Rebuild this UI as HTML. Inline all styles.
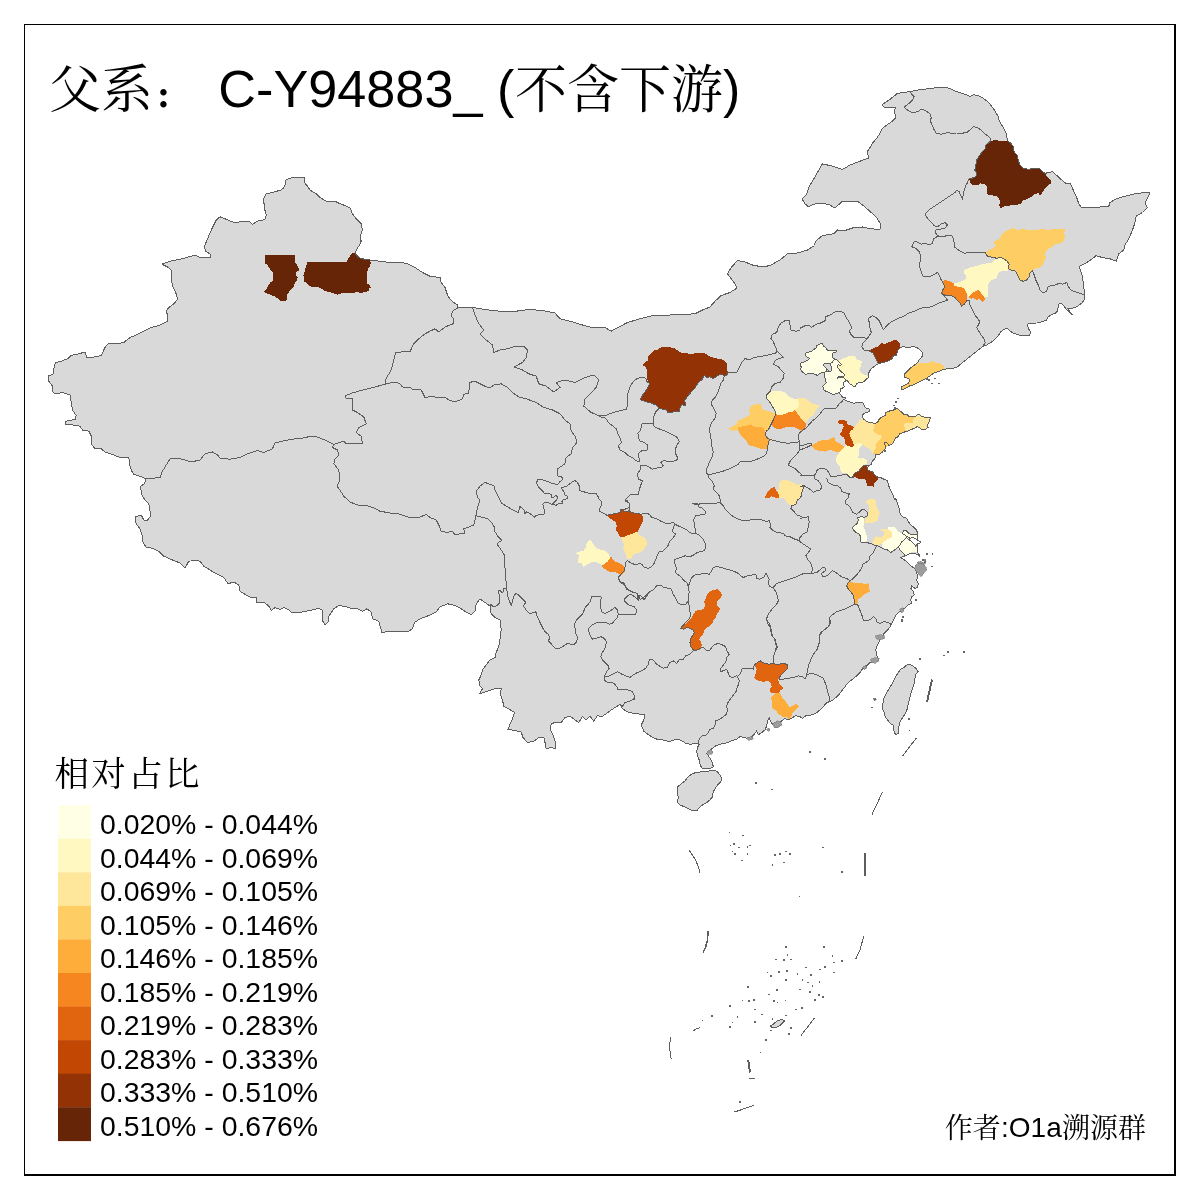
<!DOCTYPE html>
<html lang="zh-CN">
<head>
<meta charset="utf-8">
<title>父系： C-Y94883_ (不含下游)</title>
<style>
html,body{margin:0;padding:0;background:#fff;}
body{width:1200px;height:1200px;overflow:hidden;position:relative;}
svg{position:absolute;left:0;top:0;display:block;}
.sans{font-family:"Liberation Sans","Noto Serif CJK SC",sans-serif;}
.cjk{font-family:"Noto Serif CJK SC","Liberation Serif",serif;font-weight:400;}
.landfill{fill:#D9D9D9;stroke:none;}
.isl{fill:#D9D9D9;stroke:#5e5e5e;stroke-width:1;stroke-linejoin:round;}
.water{fill:#fff;stroke:#5e5e5e;stroke-width:1;stroke-linejoin:round;}
.blob{fill:#9c9c9c;stroke:#6e6e6e;stroke-width:0.5;}
.prov{fill:none;stroke:#5e5e5e;stroke-width:1;stroke-linejoin:round;stroke-linecap:round;}
.sea{fill:none;stroke:#5e5e5e;stroke-linecap:butt;}
.dot{fill:none;stroke:#666;stroke-width:1.6;}
.reg{stroke:none;}
</style>
</head>
<body>
<svg width="1200" height="1200" viewBox="0 0 1200 1200">
<rect x="0" y="0" width="1200" height="1200" fill="#ffffff"/>

<g id="map" shape-rendering="crispEdges">
<g id="land">
<path class="landfill" d="M150 328 L160 325 L167.5 321.2 L168 316.2 L166.2 311.2 L168.8 307.5 L173.8 303.8 L177.5 299.5 L176.2 293.8 L172.5 286.2 L171.2 277.5 L171.2 270 L167.5 267 L162 264.2 L170 261.2 L182.5 258.8 L195 255 L198.8 257 L210 257.5 L210 253.8 L205.5 251.2 L204.5 246.2 L207.5 238.8 L212.5 227.5 L216.2 220 L220 216.8 L225 218.8 L233.8 222.5 L241.2 221.8 L250 221.8 L252.5 224.2 L257.5 221.2 L265 219.5 L266.2 215 L264.2 207.5 L263.8 198.8 L266.2 193.8 L275 191.8 L282.5 189.5 L285 185 L286.2 179.5 L292.5 177.5 L300 177 L305 178 L304.5 182.5 L307.5 186.2 L310 190 L316.2 193.8 L320 197.5 L326.2 201.2 L335 201.2 L340 203.8 L345 205.5 L350 208 L352.5 213.8 L356.2 218.8 L361.2 223.8 L362.5 230 L360 236.2 L361.2 241.2 L358.8 246.2 L356.2 250 L355.5 253.8 L358.8 257.5 L365 259.5 L370 260 L380 261.2 L390 262.5 L400 262 L407.5 263.8 L415 267.5 L422.5 272.5 L430 276.2 L440 277.5 L441.2 282.5 L445 287.5 L447.5 295 L450 299.2 L453.8 302.5 L457.5 305 L458 307.5 L472.5 307.5 L485 309.5 L500 311.2 L512.5 312 L520 310.5 L530 309.5 L542.5 310.5 L555 313 L560 318.8 L570 321.2 L582.5 325 L590 327 L600 327 L605 327.5 L611.2 331.2 L618.8 327 L627.5 322.5 L640 318.8 L655 315 L670 315 L682.5 314.5 L695 313.8 L702.5 310 L710 307 L715 301.2 L721.2 295.5 L730 292.5 L737 288 L735 283.8 L731.2 278.8 L727.5 273.8 L731.2 267.5 L737.5 260.5 L745 262 L752.5 265 L762.5 267 L770 265.5 L780 260 L787.5 253.8 L797.5 253 L807.5 250 L814.5 245.5 L815.5 241.2 L822.5 235.5 L833.8 233.8 L837.5 230 L845 230.5 L852.5 228 L862.5 227 L871.2 228.8 L880 229.5 L880.5 223.8 L876.2 217 L871.2 212.5 L865 207 L857.5 201.2 L850 201.2 L842.5 201.2 L835 208 L828.8 204.5 L820 203 L812.5 204.5 L808.8 207 L805 203.8 L802 198.8 L806.2 195 L808.8 187.5 L813.8 178.8 L818.8 170 L822.5 163.8 L832.5 166.2 L842.5 169.5 L850 165 L860 161.2 L868.8 158 L867 152 L870 147.5 L872.5 143.3 L876.7 138.3 L880 133.3 L882.5 128.3 L886.7 125 L891.7 121.7 L895.8 117.5 L895 114.2 L894.2 110 L895.8 107.5 L890 107 L884.2 107 L882 105 L885 102.5 L889.2 100 L893.3 96.7 L897.5 93.3 L903.3 92.5 L910 91.7 L916.7 90.3 L923.3 89.2 L930 88.7 L936.7 87.5 L943.3 87 L948.3 88 L952.5 89.7 L956.7 91.7 L961.7 93.3 L966.7 95 L970 96.3 L974.2 94.7 L978.3 95.8 L983.3 98.3 L986.7 100.8 L990 104.2 L993.3 108.3 L995.8 112.5 L998.3 116.7 L999.2 120.8 L1001.7 125 L1004.2 129.2 L1006.3 133.3 L1006.7 136.7 L1007.5 140.8 L1010.8 143.3 L1013.3 146.7 L1014.2 151.7 L1017.5 155.8 L1018.3 160.8 L1020 165 L1023.3 168.3 L1028.3 169.2 L1034.2 168.7 L1039.2 168.3 L1041.7 170.8 L1045 173.3 L1049.2 172.5 L1052.5 171.7 L1055 174.2 L1058.3 176.7 L1061.7 180 L1065.8 183.3 L1070 183 L1073.8 191.2 L1076.2 196.2 L1078.8 203.8 L1081.2 207 L1090 207.5 L1100 207 L1108.8 206.2 L1110 202.5 L1116.2 198.8 L1125 196.2 L1135 193.8 L1145 192.5 L1150 193 L1147 198.8 L1145 203.8 L1147.5 207.5 L1142.5 212.5 L1136.2 216.2 L1135 222.5 L1132.5 230 L1128.8 238.8 L1125 245 L1123.8 250 L1118.8 253.8 L1116.2 261.2 L1110 258.8 L1102.5 257.5 L1095.8 255.8 L1091.7 259.2 L1086.7 262.5 L1081.7 265 L1079.2 266.7 L1080.8 271.7 L1082.5 276.7 L1083.3 283.3 L1084.2 290 L1085 295 L1084.2 300 L1081.7 303.3 L1076.7 306.7 L1071.7 308.3 L1067.5 308.3 L1070 311.7 L1072.5 315 L1068.3 311.7 L1065 307.5 L1062.5 304.2 L1059.2 303.3 L1058.3 307.5 L1056.7 312.5 L1052.5 314.2 L1048.3 316.7 L1046.7 320 L1042.5 321.7 L1036.7 323 L1031.7 323.3 L1027.5 324.2 L1028.3 328.3 L1030.8 332.5 L1029.2 335.8 L1024.2 335.8 L1019.2 335 L1013.3 333.3 L1010 330.8 L1007.5 328.3 L1004.2 329.2 L1000.8 331.7 L998.3 335.8 L995 339.2 L990.8 342.5 L986.7 345 L982.5 346.7 L978.3 350 L974.2 353.3 L970 356.7 L965.8 360 L961.7 363.3 L957.5 366.7 L953.3 368.3 L948.3 368.7 L945 369.2 L941.7 370 L938.3 371.7 L933.3 373.3 L930 375.8 L926.7 378 L923.3 380 L920 381.7 L916.7 383.3 L913.3 385 L910 385.8 L906.7 387.5 L903.3 389.2 L901.7 390 L901.7 386.7 L905 385 L908.3 383.3 L910 380.8 L908.3 378.3 L905 377.5 L904.2 374.2 L906.7 371.7 L910 368.3 L913.3 365.8 L916.7 363.7 L919.2 360 L922.5 355.8 L923 353 L920 350 L916.7 347.5 L913.3 346.7 L908.3 347.5 L903.3 346.7 L900.8 347.5 L897.5 350.8 L896.7 355 L893.3 355.8 L891.7 359.2 L888.3 360.8 L883.3 362.5 L878.3 363.7 L875 365.8 L871.7 368.3 L869.2 371.7 L868.3 375.8 L868 378 L866.3 379.3 L865 380.7 L863.3 381.7 L861.7 382.7 L859.3 382.3 L857.7 383 L856 384.7 L855.7 386.3 L853.7 386.7 L852.3 385 L850.3 384 L848.7 382.7 L847.7 381 L846.3 380 L845.7 381 L844 381.7 L843.7 383.7 L844 385.7 L844.3 386.7 L843 387.7 L841 388.7 L839.7 389 L841 390 L840.7 391.3 L839 392.7 L840.3 394.3 L841.7 396 L843 397.7 L844.7 397.3 L845.7 398 L844.7 399.3 L845.7 400.7 L847.7 401.3 L850.3 402 L853 403 L854.3 403.7 L855.7 402.7 L858.3 402.3 L861 402.2 L863 403 L864 405 L865 406.7 L866.3 408.3 L869 408.7 L869.7 409.7 L869 411.5 L866.7 412.4 L863.9 413.3 L862.5 415.1 L862.5 417.4 L863.9 419.2 L866.2 421.1 L869.4 422.5 L872.6 422.9 L874.9 423.6 L877.7 422.5 L878.6 419.7 L881.3 417.4 L885 415.6 L885.9 412.4 L889.6 411 L893.2 410.1 L895.1 409.2 L897.4 408.7 L899.7 410.5 L902.4 412.8 L904.2 414.5 L907 414.7 L908.8 416.3 L912.5 417 L915.2 416.5 L917.1 415.1 L919.4 414.2 L920.8 416 L923.5 417 L927.2 417.2 L930.8 417.4 L929.5 419.7 L929 422.5 L927.2 425.2 L928.1 427.5 L925.3 429.3 L921.7 429.3 L918.9 427.5 L917.1 426.6 L914.3 428.4 L911.6 429.3 L908.8 430.7 L905.6 431.6 L902.4 432.8 L899.7 433.9 L898.3 436.7 L896 437.6 L894.2 440.3 L893.2 443.1 L891 444.5 L888.7 445.4 L887.3 443.1 L885 442.6 L884.1 444 L885.9 445.8 L885.9 447.7 L884.1 450 L881.8 452.7 L879.5 454.1 L875.8 454.5 L875.4 457.3 L874 459.6 L872.2 461.4 L871.7 464.2 L869.4 465.5 L867.6 467.8 L868 470.1 L870.3 471 L872.6 472 L874 473.8 L875.8 475.6 L878.1 477.5 L881.3 477.9 L885 479.8 L887.8 480.7 L888.2 484.3 L889.6 488 L891.4 491.7 L893.2 495.3 L894.6 499.9 L895.8 498.3 L897.5 503.3 L899.2 508.3 L900 513.3 L902.5 516.7 L906.7 518.3 L908.3 521.7 L910.8 525 L913.3 526.7 L915.8 529.2 L917.5 532.5 L918 535.8 L917.5 539.2 L919.2 541.7 L916.7 543.3 L917.5 547.5 L917.5 551.7 L919.2 555 L920 556.7 L916.7 554.2 L913.3 553.3 L908.3 554.2 L905 555.8 L900.8 557.5 L903.3 559.2 L906.7 561.7 L910 565 L913.3 567.5 L915 569.2 L916.7 571.7 L917.5 576.7 L916.7 580 L918.3 583.3 L917.5 587.5 L915 588.3 L911.7 585.8 L910.8 588.3 L913.3 591.7 L914.2 595 L911.7 596.7 L910.8 600 L911.7 603.3 L908.3 605 L905.8 607.5 L903.3 609.2 L900.8 610.8 L898.3 612.5 L895.8 615 L894.2 618.3 L892.5 621.7 L890.8 625.8 L888.3 629.2 L885.8 631.7 L883.3 634.2 L881.7 636.7 L880 640 L878.3 643.3 L876.7 646.7 L875.8 650 L876.2 652.5 L877.5 657.5 L875 661.2 L870 662.5 L866.2 666.2 L862.5 668.8 L860 672.5 L856.2 676.2 L847.5 683.3 L845 686.7 L842.5 690 L840 693.3 L836.7 696.7 L833.3 699.7 L829.2 701.7 L825.8 703.3 L823.3 706.7 L820 710 L816.7 712.5 L813.3 714.2 L810 715.3 L805.8 715.8 L802.5 718.3 L799.2 716.3 L795 715.8 L791.7 718.3 L788.3 720 L785 718.3 L781.7 720.8 L778.3 723.3 L775 726.7 L772.5 724.2 L770 720 L769.2 717.5 L767.5 721.7 L766.7 725.8 L765 730 L761.7 732.5 L758.3 735 L756.7 730.8 L754.2 734.2 L751.7 736.7 L748.3 738.7 L744.2 737.5 L740 736.7 L736.7 739.2 L732.5 740.3 L728.3 742.5 L724.2 743.3 L720 744.2 L715.8 745.8 L712.5 748.3 L709.2 750.8 L706.7 753.3 L708.3 755.8 L710.8 759.2 L712.5 763.3 L713.3 766.7 L710.8 768 L706.7 768.3 L701.7 768 L700 764.2 L699.2 760 L697.5 755.8 L696.7 751.7 L697.5 747.5 L699.2 744.2 L695 743.7 L690 744.2 L685.8 743.3 L681.7 740.8 L677.5 739.2 L673.3 740.3 L669.2 741.7 L665 740.3 L660 739.7 L655 738.7 L651.7 736.7 L648.8 735 L643.8 731.2 L641.2 725 L643.8 720 L645 715 L637.5 713.8 L628.8 712.5 L622.5 708.8 L620 704.5 L615 707.5 L611.2 710 L606.2 713.8 L601.2 717 L597.5 715.5 L593.8 721.2 L590 716.2 L586.2 720 L582.5 716.2 L578.8 722.5 L575 720 L570 716.2 L565 717.5 L561.2 722.5 L555 722.5 L551.2 723.8 L550 728.8 L553 735 L555 741.2 L555 748.8 L551.2 747.5 L546.2 748.8 L545 742.5 L543.8 737 L538.8 737.5 L533.8 741.2 L527.5 742.5 L523 737.5 L521.2 732 L515 730.5 L508 729.5 L510 723.8 L512.5 718.8 L514.5 712.5 L508.8 708.8 L503.8 706.2 L502.5 700 L500 693.8 L501.2 688.8 L495 688.8 L487.5 691.2 L479.5 693.8 L482.5 688.8 L480 686.2 L478.8 680 L481.2 675 L482.5 670 L486.2 665 L490 660 L495 657.5 L496.2 652.5 L498.8 646.2 L500 638.8 L501.2 630 L500 620 L495 617.5 L491.2 613.8 L490 606.2 L485 602.5 L480 598.8 L476.2 603.8 L475 611.2 L471.2 614.5 L466.2 612 L461.2 608.8 L455 605.5 L447.5 603.8 L440 607 L436.2 612 L428.8 615.5 L420 618.8 L414.5 622.5 L412.5 628.8 L408.8 631.2 L400 632 L390 631.2 L382 632.5 L380.5 627.5 L378.8 621.2 L372.5 618.8 L371.2 612 L367 608.8 L362.5 611.2 L357.5 608.8 L350 608 L343.8 606.2 L338.8 605.5 L333.8 608.8 L328.8 616.2 L328 622.5 L325 624.5 L322 620 L322.5 610.5 L318.8 608 L312.5 610 L306.2 611.2 L300 612.5 L292.5 613 L288.8 610 L283.8 607.5 L280 609.5 L275 607.5 L271.2 610.5 L268.8 606.2 L265 603 L257 602.5 L256.2 597 L251.2 597.5 L246.2 595 L240 591.2 L238.8 585 L233.8 582 L228 583.8 L223.8 577.5 L216.2 573.8 L210 570 L203.8 566.2 L200 561.2 L195 560.5 L188.8 561.2 L185 568 L180 563 L172.5 560 L163.8 556.2 L158.8 551.2 L152.5 548.2 L146.2 547.5 L142.5 541.2 L142 535 L140 528.8 L136.2 523.8 L135 517 L141.2 515 L143.8 520 L147.5 520 L150.8 516.2 L150 511.2 L148.8 503.8 L145 500 L141.2 493.8 L140.8 486.2 L144.5 483.8 L146.2 478.8 L140 476.2 L133.8 474.5 L131.2 470 L129.5 463.8 L128.8 457 L118.8 457 L112.5 454.5 L105 452 L101.2 448.8 L94.5 448.2 L91.2 443.8 L92 437.5 L88.8 431.2 L82.5 430 L80 426.2 L72.5 425 L65.5 424.5 L65.5 421.2 L75 419.5 L76.2 415.5 L72.5 410 L71.2 402.5 L70 395 L62.5 392.5 L55 393.8 L52 391.2 L52.5 386.2 L48.8 381.2 L48 376.2 L53.8 373.8 L53.8 368.8 L55.5 362.5 L61.2 361.2 L67.5 358.8 L71.2 355.5 L78.8 353.8 L85 352 L87 358 L93.8 357 L101.2 355.5 L105 347.5 L108.8 343 L116.2 343.8 L123.8 342.5 L130 337.5 L136.2 335 L143.8 331.2Z"/>
</g>
<g id="regions">
<path class="reg" fill="#662506" d="M265.1 255.1 L294.7 255.1 L294.9 262.7 L296.7 264.7 L298.7 268 L298.7 270.7 L296.7 271.6 L296 274.7 L297.6 277.3 L297.3 280.7 L294.7 282.7 L294 286 L292 288.7 L289.3 291.3 L287.3 294.7 L287.3 298 L286 300.7 L280.7 300.7 L278 298.7 L275.3 296.7 L272 295.3 L268.7 294 L264.7 292.7 L264.3 291.1 L266.7 288.7 L268 286 L270 282.7 L272.7 281.3 L273.1 276.7 L272.7 272.7 L270.7 270 L268.7 267.3 L268 264.9 L265.3 264Z"/>
<path class="reg" fill="#662506" d="M307.3 262.3 L325.3 262 L346.7 261.7 L348 258.7 L350 256 L352 253.3 L356 253.3 L357.3 256 L359.3 258 L364 258.7 L370 260 L370.9 263.3 L370 266 L368 268.7 L367.3 272.7 L366.7 276.7 L367.3 280.7 L366.7 283.3 L370 285.3 L370.7 288 L368 288.7 L370 290.3 L366.7 291.6 L362.7 292.7 L357.3 292.4 L352 292.7 L346.7 292.9 L341.3 293.3 L338 294.7 L336 294.3 L332 292.7 L328 292 L324.7 290.7 L321.3 288.7 L317.3 286.7 L313.3 287.1 L309.3 286 L306.7 283.3 L304 281.3 L303.7 276.7 L303.3 275.3 L304.7 271.3 L305.6 267.3 L306.7 264.7Z"/>
<path class="reg" fill="#933204" d="M650.8 353.3 L653.3 350.8 L657.5 349.7 L661.7 347.2 L668.3 347 L674.2 348.3 L678.3 350.8 L681.7 353 L686.7 353.3 L691.7 354.2 L695 353.3 L705 353.3 L708.3 355.8 L715 358.3 L721.7 359.2 L725.8 361.7 L727.5 365.8 L727 370 L728.3 372 L726.7 375 L724.2 376.3 L722.5 374.2 L719.2 374.7 L715.8 377 L713.3 378.7 L710 376.7 L706.7 377.5 L704.2 375.3 L701.7 380 L698.3 382.5 L695.8 386.7 L693.3 390 L690.8 392.5 L686.7 397.5 L684.2 400.8 L685.8 403.3 L685 405.8 L681.7 404.7 L680 408.3 L679.7 411.7 L673.3 412 L667.5 412.5 L666.7 410 L663.3 409.2 L659.2 408.3 L655.8 405 L650 402.5 L645.8 401.7 L640 399.7 L642.5 395 L645.8 390.8 L648.3 386.7 L649.7 383.3 L647.5 380 L646.7 375 L647 370 L645.8 366.7 L643.3 365.8 L643.7 363.3 L647.5 360.8 L648.3 356.7Z"/>
<path class="reg" fill="#FECE65" d="M750.8 405.8 L755.8 404.2 L760.8 404.2 L762.5 409.2 L766.7 410.8 L771.7 412 L775.8 413.3 L774.2 418.3 L771.7 424.2 L768.7 429.2 L765 431.7 L764.2 428.3 L760 426.7 L755 427.5 L750.8 424.2 L746.7 425.8 L742.5 426.3 L738.3 427.5 L738 430 L733.3 430.8 L727.5 429.2 L731.7 426.7 L736.7 424.2 L737.5 420.8 L741.7 419.2 L746.7 416.7 L750 415 L749.2 410Z"/>
<path class="reg" fill="#FEAC3A" d="M738.3 427.5 L742.5 426.3 L746.7 425.8 L750.8 424.2 L755 427.5 L760 426.7 L764.2 428.3 L765 432.5 L766.7 437.5 L769.7 439.2 L768.3 443.3 L767.5 448.3 L763.3 449.2 L758.3 448 L753.3 446.3 L748.3 445 L746.7 441.7 L744.2 439.2 L741.7 436.7 L739.2 432.5 L738 430Z"/>
<path class="reg" fill="#FFFFE5" d="M822 343.3 L823 345 L824.3 346.7 L826.3 348 L827.3 350 L829.7 350.7 L832.3 351 L835 350.7 L837 351 L835.7 352 L833.7 352.5 L832 354.3 L832.3 356.3 L833.3 358.3 L835 359.3 L833.3 361 L831.7 362.7 L829.7 363.5 L827 363.7 L824.3 363.8 L823.3 365 L824.7 366.7 L826.3 368 L826.7 369.7 L827 371.3 L825.3 371.7 L823.7 372.7 L821.7 372.9 L819.7 373.3 L818 375 L817 375.3 L815 374.3 L813 373.7 L811 373.3 L809 373 L807 374 L805.7 374.3 L804 373 L802.3 372 L801.3 370.3 L800.7 369 L801.3 367 L800.3 365.3 L800 364.3 L801.3 363 L803.7 362 L806 361 L808.3 359.7 L809.3 358.3 L807.3 357.3 L806 356 L805.3 354.3 L805.7 353 L807.7 352.5 L810 351.7 L812.3 351 L814 349.3 L815.7 348.3 L817 347.3 L816.7 345.7 L818 345 L820 344Z"/>
<path class="reg" fill="#FFFFE5" d="M835 359.3 L836.7 360 L838.3 361.3 L840 362.7 L841 364 L841.7 364.7 L840.3 365.3 L838.3 364.7 L837.7 365.7 L838 367.7 L839 369.3 L840.3 371 L841.7 372.3 L843.3 373 L844.3 374.3 L844 376 L842.3 376.7 L840.3 376.9 L838.3 377 L837.7 378.2 L839.3 377.7 L841.7 377.5 L843.7 377.7 L845 379 L846.3 380 L845.7 381 L844 381.7 L843.7 383.7 L844 385.7 L844.3 386.7 L843 387.7 L841 388.7 L839.7 389 L841 390 L840.7 391.3 L839 392.7 L837.7 393.3 L835.7 393.7 L834 394.3 L832.3 394 L830.3 393.3 L829 392.3 L827 391.7 L825 390.7 L823.7 389.7 L823.3 388 L822.7 386.7 L823.7 385.3 L825 384 L826.3 382.7 L825.7 381 L825.3 379 L824.7 377.7 L825 375.7 L824.3 374 L823.7 372.7 L825.3 371.7 L827 371.3 L828.3 371 L829.3 372 L830.7 371.7 L831.3 370.7 L831 369 L832 368 L831.3 366.3 L830.3 364.7 L829.7 363.5 L831.7 362.7 L833.3 361Z"/>
<path class="reg" fill="#FFF8C1" d="M839.7 360 L841.7 359 L844 358 L846.3 357.3 L848 356.3 L851.7 356 L855 356.2 L855.7 357.7 L857.3 359.7 L859.7 360.3 L861.7 361 L862 362.3 L861 363.7 L861 366.3 L860 368.3 L859.3 370 L860 371.7 L861 373.3 L863.7 374.3 L866 375.3 L868.3 376 L869.3 376.7 L868 378 L866.3 379.3 L865 380.7 L863.3 381.7 L861.7 382.7 L859.3 382.3 L857.7 383 L856 384.7 L855.7 386.3 L853.7 386.7 L852.3 385 L850.3 384 L848.7 382.7 L847.7 381 L846.3 380 L845 379 L843.7 377.7 L844.3 376 L844.7 374.3 L843.3 373 L841.7 372.3 L840.3 371 L839 369.3 L838 367.7 L837.7 365.7 L838.3 364.7 L840.3 365.3 L841.7 364.7 L841 364 L840 362.7 L838.3 361.3Z"/>
<path class="reg" fill="#933204" d="M869.2 350.8 L873.3 348.3 L878.3 346.3 L881.7 342.5 L884.2 344.2 L886.7 343 L890.8 341.7 L893.3 340 L896.7 340.3 L899.7 343.3 L900 347.5 L897.5 350.8 L896.7 355 L893.3 355.8 L891.7 359.2 L888.3 360.8 L883.3 362.5 L878.3 363.7 L876.7 360.8 L875 356.7 L873.3 353.3Z"/>
<path class="reg" fill="#FECE65" d="M945 369.2 L941.7 370 L938.3 371.7 L933.3 373.3 L930 375.8 L926.7 378 L923.3 380 L920 381.7 L916.7 383.3 L913.3 385 L910 385.8 L906.7 387.5 L903.3 389.2 L901.7 390 L901.7 386.7 L905 385 L908.3 383.3 L910 380.8 L908.3 378.3 L905 377.5 L904.2 374.2 L906.7 371.7 L910 368.3 L913.3 365.8 L916.7 363.7 L921.7 363 L926.7 363.3 L931.7 361.7 L933.3 360.3 L935.8 363 L940 363.3 L943.3 365.8Z"/>
<path class="reg" fill="#C14702" d="M837.3 422 L839.2 420.4 L843.8 420 L847 421.5 L847.4 424.3 L850.2 425.2 L852.9 426.1 L854 427.5 L852.5 429.8 L850.2 431.2 L849.3 433.5 L850.2 436.7 L852 440.3 L853.4 443.1 L853.8 445.8 L852 446.8 L848.3 446.3 L846.5 444.9 L844.7 443.1 L845.1 440.3 L843.8 437.6 L841 435.8 L840.1 433.5 L841.9 431.2 L842.8 428.4 L843.8 426.6 L842.8 424 L839.6 423.7Z"/>
<path class="reg" fill="#FEAC3A" d="M811.7 445 L815.8 443.3 L819.2 440.8 L823.3 440 L828.3 439.7 L832.5 437.5 L834.2 436.7 L835 440.8 L839.2 443.3 L843.3 445.8 L844.2 447.5 L840.8 450.8 L838.3 452.5 L833.3 450.8 L829.2 450 L825 451.7 L820 450.8 L815.8 450 L813.3 448.3Z"/>
<path class="reg" fill="#FEE79B" d="M856.6 424.3 L859.3 420.6 L862.1 418.8 L863.5 419.7 L866.2 421.5 L869.4 422.9 L872.6 423.4 L874.9 424 L874 427 L873.1 430.3 L874.9 432.5 L877.7 434.4 L881.3 435.8 L881.8 436.7 L880 439.4 L878.1 441.7 L876.3 443.1 L875.4 445.8 L876.3 448.6 L874.9 450 L873.1 452.3 L872.6 453.6 L871.3 450.9 L869.4 448.6 L866.7 447.2 L864.4 446.3 L863 444.9 L860.7 443.1 L858.4 442.6 L856.1 444 L853.8 445.8 L853.4 443.1 L852 440.3 L850.2 436.7 L849.3 433.5 L850.2 431.2 L852.5 429.8 L854 427.5 L855.7 426.1Z"/>
<path class="reg" fill="#FECE65" d="M874.9 424 L877.7 422.9 L878.6 419.7 L881.3 417.4 L885 415.6 L885.9 412.4 L889.6 411 L893.3 410.1 L895.1 409.2 L897.4 408.7 L899.7 410.5 L902.4 412.8 L904.3 414.5 L907 414.7 L908.8 416.3 L912.5 417 L915.3 416.5 L913.4 419.7 L913 422.5 L908.8 422.9 L905.2 423.4 L903.3 424.8 L904.7 427 L905.6 429.8 L907.9 429.8 L905.6 431.6 L902.4 432.8 L899.7 433.9 L898.3 436.7 L896 437.6 L894.2 440.3 L893.3 443.1 L891 444.5 L888.7 445.4 L885.9 447.7 L884.1 450 L881.8 452.7 L879.5 454.1 L875.8 454.5 L874 454.1 L872.6 453.6 L873.1 452.3 L874.9 450 L876.3 448.6 L875.4 445.8 L876.3 443.1 L878.1 441.7 L880 439.4 L881.8 436.7 L881.3 435.8 L877.7 434.4 L874.9 432.5 L873.1 430.3 L874 427Z"/>
<path class="reg" fill="#FEE79B" d="M915.3 416.5 L917.1 415.1 L919.4 414.2 L920.8 416 L923.5 417 L927.2 417.2 L930.8 417.4 L929.5 419.7 L929 422.5 L927.2 425.2 L928.1 427.5 L925.3 429.3 L921.7 429.3 L918.9 427.5 L917.1 426.6 L914.3 428.4 L911.6 429.3 L908.8 430.7 L907.9 429.8 L905.6 429.8 L904.7 427 L903.3 424.8 L905.2 423.4 L908.8 422.9 L913 422.5 L913.4 419.7Z"/>
<path class="reg" fill="#FFF8C1" d="M853.8 445.8 L856.1 444 L858.4 442.6 L860.7 443.1 L863 444.9 L860.7 446.8 L858.4 449 L859.3 451.8 L858.9 455 L857.5 457.3 L860.3 458.7 L863 458.2 L865.8 459.6 L867.1 461 L866.7 463.7 L864.4 465.1 L862.1 466.5 L860.7 468.8 L858.4 471.5 L856.1 472.4 L853.8 474.3 L852.9 477.9 L849.7 478.4 L848.3 475.2 L847 473.3 L843.8 473.3 L841.5 472 L840.1 468.8 L839.6 466 L837.3 463.3 L835.5 460 L836 457.3 L837.8 455 L839.2 452.7 L841.9 450 L844.2 447.7 L846.5 444.9 L848.3 446.3 L852 446.8Z"/>
<path class="reg" fill="#933204" d="M862.1 466.5 L864.4 465.1 L866.7 465.5 L867.6 467.8 L868 470.1 L870.3 471 L872.6 472 L874 473.8 L875.8 475.6 L878.1 477.5 L877.7 479.8 L875.4 481.6 L874 483.4 L873.5 486.6 L871.7 485.7 L869.4 486.2 L867.1 485.7 L866.7 483 L865.8 480.7 L864.4 478.8 L861.6 478.8 L858.9 479.3 L856.6 477.9 L853.8 476.5 L853.8 474.3 L856.1 472.4 L858.4 471.5 L860.7 468.8Z"/>
<path class="reg" fill="#FEE79B" d="M866.7 500 L871.7 498.8 L875.8 500 L876.3 505 L877.5 509.2 L879.7 513.3 L878.3 516.7 L877.5 520.8 L873.3 522.5 L868.3 523 L864.2 523.3 L865 520 L867.5 516.7 L868.3 512.5 L869.2 508.3 L868.3 504.2 L866.3 502.5Z"/>
<path class="reg" fill="#FFFFE5" d="M857.5 517.5 L861.7 516.7 L864.2 517.5 L864.2 523.3 L863.3 526.7 L865 530 L865.8 533.3 L867.5 536.7 L866.7 540.8 L865.8 542.5 L861.7 542.5 L860 540.8 L860.8 536.7 L859.2 534.2 L855.8 532.5 L853.3 530 L852.5 527.5 L855 525 L857.5 523.3 L858.3 520Z"/>
<path class="reg" fill="#FEE79B" d="M881 529.3 L885.3 529 L888 529.3 L890 530.7 L891.7 532.7 L891.9 535.3 L891.3 537.3 L889.7 538.3 L887.3 539.3 L885.3 540.7 L883.3 542 L882 543.3 L880 544.7 L877.3 544.8 L875 544.7 L873.3 543.7 L873 541.3 L873.7 539.3 L875 537 L876 536.3 L878 537 L880 537 L882 536.7 L883 535.3 L884 534 L884.3 532.3 L883.3 531 L881.3 530.8Z"/>
<path class="reg" fill="#FFFFE5" d="M888 527.3 L890.7 527 L894.7 527 L896.7 529.3 L897.3 531.3 L899.3 532.3 L902 533.3 L903 534 L904.7 535 L906.3 536 L903.3 538.7 L902.7 539.7 L902.3 541.3 L901.3 543 L901 544.7 L899.3 546 L898 547.7 L896.7 548.7 L894.7 549.3 L892.7 550.7 L891 552 L890 551.7 L888.7 550 L886.7 549.3 L884.7 548.7 L883 547.3 L881.7 545.7 L882 543.3 L883.3 542 L885.3 540.7 L887.3 539.3 L889.7 538.3 L891.3 537.3 L891.9 535.3 L891.7 532.7 L890 530.7 L888 529.3Z"/>
<path class="reg" fill="#FFFFE5" d="M903.3 538.7 L906 538 L908.7 539.3 L911.3 541.3 L914 544 L916 546.3 L917.5 548.3 L917.7 550.7 L917.3 552.3 L915.3 552.1 L912.7 552.3 L910 552.7 L907.7 554 L906 555.3 L904.3 554.3 L902.7 552.7 L900.7 551.7 L899.3 550 L898 547.7 L899.3 546 L901 544.7 L901.3 543 L902.3 541.3 L902.7 539.7Z"/>
<path class="reg" fill="#FEAC3A" d="M850 580.8 L853.3 582.5 L857.5 583.3 L861.7 582.5 L864.2 584.2 L868.3 583.3 L869.2 587.5 L869.7 591.7 L866.7 593.3 L863.3 595 L860.8 597.5 L858.3 599.2 L857.5 603.3 L855 604.2 L854.2 600 L853 595 L850.8 591.7 L848.3 589.2 L846.7 585.8 L848.3 582.5Z"/>
<path class="reg" fill="#C14702" d="M606.7 515.3 L611.7 514.2 L616.7 513.3 L620 512.5 L620.3 510 L622.5 509.7 L625 511.7 L629.2 510.8 L630.8 512.5 L635.8 513.3 L641.7 514.2 L643 517.5 L642.5 521.7 L640.8 525 L639.2 528.3 L637.5 531.7 L633.3 533.3 L628.3 535 L624.2 536.7 L620 536.7 L618.3 533.3 L615.8 530 L616.7 525.8 L615.8 521.7 L612.5 520 L609.2 518.3Z"/>
<path class="reg" fill="#FEE79B" d="M624.2 536.7 L628.3 535 L633.3 533.3 L637.5 531.7 L639.2 535 L642.5 536.7 L645.8 539.2 L647.5 542.5 L645.8 546.7 L643.3 550 L640 552.5 L635.8 553.3 L632.5 555.8 L630.8 559.2 L627.5 559.2 L625.8 555.8 L625 551.7 L623.3 548.3 L624.2 544.2 L622.5 540.8 L620.8 538.3Z"/>
<path class="reg" fill="#E1640E" d="M709.2 591.7 L713.3 590 L717.5 589.2 L720 591.7 L722 594.2 L720.8 597.5 L718.3 600 L716.7 602.5 L717.5 605.8 L720 608.3 L719.2 611.7 L716.7 614.2 L715.8 617.5 L713.3 620 L712.5 623.3 L710 625.8 L706.7 627.5 L704.2 630.8 L703.3 634.2 L700.8 636.7 L699.2 639.2 L700.8 641.7 L701.7 645 L700.8 648.3 L699.2 650 L693.3 650 L690.8 646.7 L690 642.5 L690.8 638.3 L692.5 635.8 L694.2 632.5 L693.3 630 L690 628.3 L686.7 627.5 L683.3 629.2 L680.8 628.3 L682.5 625.8 L685.8 623.3 L689.2 620 L691.7 617.5 L693.3 614.2 L695.8 610.8 L700 610 L703.3 609.2 L705 605.8 L704.2 601.7 L705.8 598.3 L706.7 595Z"/>
<path class="reg" fill="#FFF8C1" d="M590 539.2 L592.5 542.5 L595 546.7 L598.3 549.2 L602.5 550 L606.7 551.7 L609.2 555 L610 558.3 L607.5 561.7 L604.2 564.2 L601.7 565 L598.3 563.3 L595 561.7 L590.8 562.5 L586.7 565 L583.3 566.7 L581.7 563.3 L577.5 563.3 L578.3 558.3 L579.2 555 L575.8 553.3 L579.2 551.7 L583.3 550.8 L585.8 547.5 L586.7 542.5Z"/>
<path class="reg" fill="#F68720" d="M610.8 555.8 L612.5 559.2 L615 561.7 L618.3 562.5 L621.7 564.2 L624.2 566.7 L625 570.8 L623.3 573.3 L620.8 575 L617.5 573.3 L614.2 571.7 L610.8 572.5 L607.5 570.8 L604.2 568.3 L601.7 565.8 L604.2 564.2 L607.5 561.7 L610 558.3Z"/>
<path class="reg" fill="#FFF8C1" d="M768.3 392.5 L773.3 390.8 L780 390.8 L785 392.5 L788.3 395.8 L791.7 398.3 L795.8 399.2 L798.3 398.3 L798 401.7 L799.2 405 L797.5 408.3 L795 409.7 L792.5 411.7 L788.3 412.5 L784.2 414.2 L780 415 L775.8 414.2 L775 410 L773.3 406.7 L770.8 403.3 L768.3 400 L766.3 397.5Z"/>
<path class="reg" fill="#FEE79B" d="M798.3 398.3 L803.3 398 L806.7 399.2 L809.2 401.7 L813.3 404.2 L820 405 L817.5 408.3 L815 411.7 L813.3 415 L810 417.5 L807.5 420 L805.8 423.3 L803.3 420.8 L800.8 418.3 L799.2 415.8 L796.7 412.5 L795 409.7 L797.5 408.3 L799.2 405 L798 401.7Z"/>
<path class="reg" fill="#F68720" d="M775.8 414.2 L780 415 L784.2 414.2 L788.3 412.5 L792.5 411.7 L795 409.7 L796.7 412.5 L799.2 415.8 L800.8 418.3 L803.3 420.8 L805.8 423.3 L806.3 425.8 L804.2 428.3 L801.7 430.8 L798.3 429.2 L795 427.5 L790.8 426.7 L786.7 427 L782.5 428.3 L778.3 429.2 L774.2 428 L771.7 425 L773.3 420 L775 416.7Z"/>
<path class="reg" fill="#FEE79B" d="M780 480.8 L785 480 L790 480.8 L793.3 482.5 L796.7 485 L800 484.2 L804.2 485.3 L803 489.2 L801.7 493.3 L800.8 497.5 L797.5 500 L795.8 504.2 L791.7 505.8 L788.3 504.2 L785.8 500.8 L783.3 498.3 L779.2 497.5 L777.5 494.2 L778.3 490 L779.2 485Z"/>
<path class="reg" fill="#E1640E" d="M764.2 498.3 L766.7 493.7 L769.2 490 L772.5 487.5 L775 487 L775.8 490.8 L778.3 493.3 L779.2 497.5 L775 497.5 L771.7 496.3 L768.3 498.3Z"/>
<path class="reg" fill="#FECE65" d="M985.8 253.3 L988.3 250 L993.3 248.3 L995.8 245.8 L993.3 242.5 L996.7 240 L1000 238.3 L1001.7 234.2 L1005 231.7 L1009.2 229.2 L1013.3 228.3 L1016.7 230 L1021.7 229.2 L1028.3 229.7 L1035 230 L1041.7 229.2 L1048.3 229.7 L1055 229.2 L1060.8 228.7 L1065 229.2 L1064.2 233.3 L1065 237.5 L1063.3 241.7 L1060 243.3 L1055.8 244.2 L1052.5 246.7 L1049.2 248.3 L1046.7 250.8 L1045 254.2 L1045.8 257.5 L1044.2 261.7 L1042.5 265 L1040 267.5 L1035.8 268.3 L1032.5 270.8 L1030 273.3 L1029.2 276.7 L1026.7 280 L1023.3 281.3 L1020 280 L1018.3 276.7 L1016.7 273.3 L1015 270.8 L1010.8 270 L1008.3 268.3 L1009.2 264.2 L1006.7 260.8 L1003.3 258.3 L1000 257.5 L996.7 258.3 L993.3 257.5 L990 256.7 L986.7 255.8Z"/>
<path class="reg" fill="#FFF8C1" d="M992.5 261.7 L995.8 259.2 L1000 258 L1003.3 258.7 L1006.7 260.8 L1008.3 264.2 L1008 268.3 L1007.5 270.8 L1003.3 271.3 L999.2 271.7 L997.5 275 L996.7 278.3 L993.3 279.2 L990 280.8 L988.3 284.2 L987.5 288.3 L988.3 293.3 L988 296.7 L984.2 296.7 L981.7 294.2 L980 290.8 L977.5 290 L974.2 291.7 L970.8 295 L968.3 296.7 L966.7 293.3 L965 290 L962.5 287.5 L958.3 286.7 L954.2 285.8 L954.2 283.3 L958.3 282.5 L962.5 280.8 L965.8 279.2 L965.8 275.8 L963.3 273.3 L964.2 270 L968.3 268.3 L972.5 266.7 L977.5 265.8 L981.7 264.2 L986.7 263.3 L990.8 263.3Z"/>
<path class="reg" fill="#F68720" d="M942.5 281.7 L945 280 L948.3 280.8 L954.2 283.3 L954.2 285.8 L958.3 286.7 L962.5 287.5 L965 290 L966.7 293.3 L967.5 297.5 L966.7 300.8 L964.2 304.2 L961.7 306.3 L960 303.3 L957.5 300.8 L955 297.5 L951.7 295.8 L948.3 295 L945 295 L941.7 293.3 L942.5 290 L944.7 287.5 L943.7 284.2Z"/>
<path class="reg" fill="#F68720" d="M968.3 296.7 L970.8 295 L974.2 291.7 L977.5 290 L980 290.8 L981.7 294.2 L984.2 296.7 L985 300 L982.5 301.7 L979.2 299.2 L976.7 300 L974.2 298.3 L970.8 298.7Z"/>
<path class="reg" fill="#662506" d="M994.2 140 L1000 140.8 L1007.5 140.8 L1010.8 143.3 L1013.3 146.7 L1014.2 151.7 L1017.5 155.8 L1018.3 160.8 L1020 165 L1023.3 168.3 L1028.3 169.2 L1034.2 168.7 L1039.2 168.3 L1041.7 170.8 L1045 173.3 L1046.7 176.7 L1050.8 180 L1051.7 183.3 L1048.3 185 L1045 188.3 L1042.5 192.5 L1040 195.3 L1038.3 193 L1034.2 194.2 L1031.7 196.7 L1026.7 199.2 L1022.5 200.8 L1020.8 204.2 L1016.7 204.7 L1011.7 205.3 L1007.5 205.8 L1003.3 206.7 L1000 208.3 L999.2 205 L1000 201.7 L999.2 198.3 L996.7 196.3 L992.5 195.3 L986.7 194.2 L986.7 190 L987.5 186.7 L985 184.2 L980 183.3 L978.3 185.3 L973.3 185.3 L970 182.5 L969.2 178.7 L972.5 178 L975.8 176.7 L976.7 173.3 L974.7 170 L975.8 165 L976.7 160 L979.2 155.8 L981.7 152.5 L985 149.2 L985.8 145 L989.2 142.5Z"/>
<path class="reg" fill="#E1640E" d="M754.2 665 L756.7 663 L760 660.8 L764.2 663 L768.3 664.2 L773.3 663.7 L778.3 664.7 L783.3 663 L787.5 665 L787.5 668.3 L784.2 671.7 L781.7 674.2 L779.2 677.5 L778.3 680 L779.2 684.2 L781.7 686.7 L783.3 688.3 L780.8 690 L779.2 692.5 L775 693 L770.8 692.5 L769.2 690 L771.7 686.7 L770.8 683.3 L768.3 680.8 L764.2 681.7 L760 681.3 L756.7 680 L754.2 677.5 L755.8 673.3 L756.7 669.2Z"/>
<path class="reg" fill="#FEAC3A" d="M770.8 698.3 L773.3 695 L775 693 L779.2 692.5 L780.8 694.2 L782.5 697.5 L785 700.8 L787.5 704.2 L790 707.5 L793.3 705 L796.7 704.2 L798.7 706.3 L796.7 709.2 L793.3 711.7 L791.7 715 L790.8 719.2 L788.3 720 L786.7 716.7 L783.3 717.5 L780.8 715 L778.3 714.2 L776.7 710.8 L773.3 709.2 L771.7 706.7 L772.5 702.5Z"/>
<path class="reg" fill="#FFFFE5" d="M902 533.3 L903.3 531.3 L905 530 L906.3 530.7 L907.7 532 L909.3 533.7 L911.3 534.3 L914 534.1 L916.7 534.3 L917.9 535.3 L917.7 537.3 L917.9 539.3 L916.7 539.7 L915.3 538.3 L913.3 537.7 L911.3 538 L910 538.3 L908 537 L906.3 536 L904.7 535 L903 534Z"/>
</g>
<g id="outline">
<path class="prov" d="M150 328 L160 325 L167.5 321.2 L168 316.2 L166.2 311.2 L168.8 307.5 L173.8 303.8 L177.5 299.5 L176.2 293.8 L172.5 286.2 L171.2 277.5 L171.2 270 L167.5 267 L162 264.2 L170 261.2 L182.5 258.8 L195 255 L198.8 257 L210 257.5 L210 253.8 L205.5 251.2 L204.5 246.2 L207.5 238.8 L212.5 227.5 L216.2 220 L220 216.8 L225 218.8 L233.8 222.5 L241.2 221.8 L250 221.8 L252.5 224.2 L257.5 221.2 L265 219.5 L266.2 215 L264.2 207.5 L263.8 198.8 L266.2 193.8 L275 191.8 L282.5 189.5 L285 185 L286.2 179.5 L292.5 177.5 L300 177 L305 178 L304.5 182.5 L307.5 186.2 L310 190 L316.2 193.8 L320 197.5 L326.2 201.2 L335 201.2 L340 203.8 L345 205.5 L350 208 L352.5 213.8 L356.2 218.8 L361.2 223.8 L362.5 230 L360 236.2 L361.2 241.2 L358.8 246.2 L356.2 250 L355.5 253.8 L358.8 257.5 L365 259.5 L370 260 L380 261.2 L390 262.5 L400 262 L407.5 263.8 L415 267.5 L422.5 272.5 L430 276.2 L440 277.5 L441.2 282.5 L445 287.5 L447.5 295 L450 299.2 L453.8 302.5 L457.5 305 L458 307.5 L472.5 307.5 L485 309.5 L500 311.2 L512.5 312 L520 310.5 L530 309.5 L542.5 310.5 L555 313 L560 318.8 L570 321.2 L582.5 325 L590 327 L600 327 L605 327.5 L611.2 331.2 L618.8 327 L627.5 322.5 L640 318.8 L655 315 L670 315 L682.5 314.5 L695 313.8 L702.5 310 L710 307 L715 301.2 L721.2 295.5 L730 292.5 L737 288 L735 283.8 L731.2 278.8 L727.5 273.8 L731.2 267.5 L737.5 260.5 L745 262 L752.5 265 L762.5 267 L770 265.5 L780 260 L787.5 253.8 L797.5 253 L807.5 250 L814.5 245.5 L815.5 241.2 L822.5 235.5 L833.8 233.8 L837.5 230 L845 230.5 L852.5 228 L862.5 227 L871.2 228.8 L880 229.5 L880.5 223.8 L876.2 217 L871.2 212.5 L865 207 L857.5 201.2 L850 201.2 L842.5 201.2 L835 208 L828.8 204.5 L820 203 L812.5 204.5 L808.8 207 L805 203.8 L802 198.8 L806.2 195 L808.8 187.5 L813.8 178.8 L818.8 170 L822.5 163.8 L832.5 166.2 L842.5 169.5 L850 165 L860 161.2 L868.8 158 L867 152 L870 147.5 L872.5 143.3 L876.7 138.3 L880 133.3 L882.5 128.3 L886.7 125 L891.7 121.7 L895.8 117.5 L895 114.2 L894.2 110 L895.8 107.5 L890 107 L884.2 107 L882 105 L885 102.5 L889.2 100 L893.3 96.7 L897.5 93.3 L903.3 92.5 L910 91.7 L916.7 90.3 L923.3 89.2 L930 88.7 L936.7 87.5 L943.3 87 L948.3 88 L952.5 89.7 L956.7 91.7 L961.7 93.3 L966.7 95 L970 96.3 L974.2 94.7 L978.3 95.8 L983.3 98.3 L986.7 100.8 L990 104.2 L993.3 108.3 L995.8 112.5 L998.3 116.7 L999.2 120.8 L1001.7 125 L1004.2 129.2 L1006.3 133.3 L1006.7 136.7 L1007.5 140.8 L1010.8 143.3 L1013.3 146.7 L1014.2 151.7 L1017.5 155.8 L1018.3 160.8 L1020 165 L1023.3 168.3 L1028.3 169.2 L1034.2 168.7 L1039.2 168.3 L1041.7 170.8 L1045 173.3 L1049.2 172.5 L1052.5 171.7 L1055 174.2 L1058.3 176.7 L1061.7 180 L1065.8 183.3 L1070 183 L1073.8 191.2 L1076.2 196.2 L1078.8 203.8 L1081.2 207 L1090 207.5 L1100 207 L1108.8 206.2 L1110 202.5 L1116.2 198.8 L1125 196.2 L1135 193.8 L1145 192.5 L1150 193 L1147 198.8 L1145 203.8 L1147.5 207.5 L1142.5 212.5 L1136.2 216.2 L1135 222.5 L1132.5 230 L1128.8 238.8 L1125 245 L1123.8 250 L1118.8 253.8 L1116.2 261.2 L1110 258.8 L1102.5 257.5 L1095.8 255.8 L1091.7 259.2 L1086.7 262.5 L1081.7 265 L1079.2 266.7 L1080.8 271.7 L1082.5 276.7 L1083.3 283.3 L1084.2 290 L1085 295 L1084.2 300 L1081.7 303.3 L1076.7 306.7 L1071.7 308.3 L1067.5 308.3 L1070 311.7 L1072.5 315 L1068.3 311.7 L1065 307.5 L1062.5 304.2 L1059.2 303.3 L1058.3 307.5 L1056.7 312.5 L1052.5 314.2 L1048.3 316.7 L1046.7 320 L1042.5 321.7 L1036.7 323 L1031.7 323.3 L1027.5 324.2 L1028.3 328.3 L1030.8 332.5 L1029.2 335.8 L1024.2 335.8 L1019.2 335 L1013.3 333.3 L1010 330.8 L1007.5 328.3 L1004.2 329.2 L1000.8 331.7 L998.3 335.8 L995 339.2 L990.8 342.5 L986.7 345 L982.5 346.7 L978.3 350 L974.2 353.3 L970 356.7 L965.8 360 L961.7 363.3 L957.5 366.7 L953.3 368.3 L948.3 368.7 L945 369.2 L941.7 370 L938.3 371.7 L933.3 373.3 L930 375.8 L926.7 378 L923.3 380 L920 381.7 L916.7 383.3 L913.3 385 L910 385.8 L906.7 387.5 L903.3 389.2 L901.7 390 L901.7 386.7 L905 385 L908.3 383.3 L910 380.8 L908.3 378.3 L905 377.5 L904.2 374.2 L906.7 371.7 L910 368.3 L913.3 365.8 L916.7 363.7 L919.2 360 L922.5 355.8 L923 353 L920 350 L916.7 347.5 L913.3 346.7 L908.3 347.5 L903.3 346.7 L900.8 347.5 L897.5 350.8 L896.7 355 L893.3 355.8 L891.7 359.2 L888.3 360.8 L883.3 362.5 L878.3 363.7 L875 365.8 L871.7 368.3 L869.2 371.7 L868.3 375.8 L868 378 L866.3 379.3 L865 380.7 L863.3 381.7 L861.7 382.7 L859.3 382.3 L857.7 383 L856 384.7 L855.7 386.3 L853.7 386.7 L852.3 385 L850.3 384 L848.7 382.7 L847.7 381 L846.3 380 L845.7 381 L844 381.7 L843.7 383.7 L844 385.7 L844.3 386.7 L843 387.7 L841 388.7 L839.7 389 L841 390 L840.7 391.3 L839 392.7 L840.3 394.3 L841.7 396 L843 397.7 L844.7 397.3 L845.7 398 L844.7 399.3 L845.7 400.7 L847.7 401.3 L850.3 402 L853 403 L854.3 403.7 L855.7 402.7 L858.3 402.3 L861 402.2 L863 403 L864 405 L865 406.7 L866.3 408.3 L869 408.7 L869.7 409.7 L869 411.5 L866.7 412.4 L863.9 413.3 L862.5 415.1 L862.5 417.4 L863.9 419.2 L866.2 421.1 L869.4 422.5 L872.6 422.9 L874.9 423.6 L877.7 422.5 L878.6 419.7 L881.3 417.4 L885 415.6 L885.9 412.4 L889.6 411 L893.2 410.1 L895.1 409.2 L897.4 408.7 L899.7 410.5 L902.4 412.8 L904.2 414.5 L907 414.7 L908.8 416.3 L912.5 417 L915.2 416.5 L917.1 415.1 L919.4 414.2 L920.8 416 L923.5 417 L927.2 417.2 L930.8 417.4 L929.5 419.7 L929 422.5 L927.2 425.2 L928.1 427.5 L925.3 429.3 L921.7 429.3 L918.9 427.5 L917.1 426.6 L914.3 428.4 L911.6 429.3 L908.8 430.7 L905.6 431.6 L902.4 432.8 L899.7 433.9 L898.3 436.7 L896 437.6 L894.2 440.3 L893.2 443.1 L891 444.5 L888.7 445.4 L887.3 443.1 L885 442.6 L884.1 444 L885.9 445.8 L885.9 447.7 L884.1 450 L881.8 452.7 L879.5 454.1 L875.8 454.5 L875.4 457.3 L874 459.6 L872.2 461.4 L871.7 464.2 L869.4 465.5 L867.6 467.8 L868 470.1 L870.3 471 L872.6 472 L874 473.8 L875.8 475.6 L878.1 477.5 L881.3 477.9 L885 479.8 L887.8 480.7 L888.2 484.3 L889.6 488 L891.4 491.7 L893.2 495.3 L894.6 499.9 L895.8 498.3 L897.5 503.3 L899.2 508.3 L900 513.3 L902.5 516.7 L906.7 518.3 L908.3 521.7 L910.8 525 L913.3 526.7 L915.8 529.2 L917.5 532.5 L918 535.8 L917.5 539.2 L919.2 541.7 L916.7 543.3 L917.5 547.5 L917.5 551.7 L919.2 555 L920 556.7 L916.7 554.2 L913.3 553.3 L908.3 554.2 L905 555.8 L900.8 557.5 L903.3 559.2 L906.7 561.7 L910 565 L913.3 567.5 L915 569.2 L916.7 571.7 L917.5 576.7 L916.7 580 L918.3 583.3 L917.5 587.5 L915 588.3 L911.7 585.8 L910.8 588.3 L913.3 591.7 L914.2 595 L911.7 596.7 L910.8 600 L911.7 603.3 L908.3 605 L905.8 607.5 L903.3 609.2 L900.8 610.8 L898.3 612.5 L895.8 615 L894.2 618.3 L892.5 621.7 L890.8 625.8 L888.3 629.2 L885.8 631.7 L883.3 634.2 L881.7 636.7 L880 640 L878.3 643.3 L876.7 646.7 L875.8 650 L876.2 652.5 L877.5 657.5 L875 661.2 L870 662.5 L866.2 666.2 L862.5 668.8 L860 672.5 L856.2 676.2 L847.5 683.3 L845 686.7 L842.5 690 L840 693.3 L836.7 696.7 L833.3 699.7 L829.2 701.7 L825.8 703.3 L823.3 706.7 L820 710 L816.7 712.5 L813.3 714.2 L810 715.3 L805.8 715.8 L802.5 718.3 L799.2 716.3 L795 715.8 L791.7 718.3 L788.3 720 L785 718.3 L781.7 720.8 L778.3 723.3 L775 726.7 L772.5 724.2 L770 720 L769.2 717.5 L767.5 721.7 L766.7 725.8 L765 730 L761.7 732.5 L758.3 735 L756.7 730.8 L754.2 734.2 L751.7 736.7 L748.3 738.7 L744.2 737.5 L740 736.7 L736.7 739.2 L732.5 740.3 L728.3 742.5 L724.2 743.3 L720 744.2 L715.8 745.8 L712.5 748.3 L709.2 750.8 L706.7 753.3 L708.3 755.8 L710.8 759.2 L712.5 763.3 L713.3 766.7 L710.8 768 L706.7 768.3 L701.7 768 L700 764.2 L699.2 760 L697.5 755.8 L696.7 751.7 L697.5 747.5 L699.2 744.2 L695 743.7 L690 744.2 L685.8 743.3 L681.7 740.8 L677.5 739.2 L673.3 740.3 L669.2 741.7 L665 740.3 L660 739.7 L655 738.7 L651.7 736.7 L648.8 735 L643.8 731.2 L641.2 725 L643.8 720 L645 715 L637.5 713.8 L628.8 712.5 L622.5 708.8 L620 704.5 L615 707.5 L611.2 710 L606.2 713.8 L601.2 717 L597.5 715.5 L593.8 721.2 L590 716.2 L586.2 720 L582.5 716.2 L578.8 722.5 L575 720 L570 716.2 L565 717.5 L561.2 722.5 L555 722.5 L551.2 723.8 L550 728.8 L553 735 L555 741.2 L555 748.8 L551.2 747.5 L546.2 748.8 L545 742.5 L543.8 737 L538.8 737.5 L533.8 741.2 L527.5 742.5 L523 737.5 L521.2 732 L515 730.5 L508 729.5 L510 723.8 L512.5 718.8 L514.5 712.5 L508.8 708.8 L503.8 706.2 L502.5 700 L500 693.8 L501.2 688.8 L495 688.8 L487.5 691.2 L479.5 693.8 L482.5 688.8 L480 686.2 L478.8 680 L481.2 675 L482.5 670 L486.2 665 L490 660 L495 657.5 L496.2 652.5 L498.8 646.2 L500 638.8 L501.2 630 L500 620 L495 617.5 L491.2 613.8 L490 606.2 L485 602.5 L480 598.8 L476.2 603.8 L475 611.2 L471.2 614.5 L466.2 612 L461.2 608.8 L455 605.5 L447.5 603.8 L440 607 L436.2 612 L428.8 615.5 L420 618.8 L414.5 622.5 L412.5 628.8 L408.8 631.2 L400 632 L390 631.2 L382 632.5 L380.5 627.5 L378.8 621.2 L372.5 618.8 L371.2 612 L367 608.8 L362.5 611.2 L357.5 608.8 L350 608 L343.8 606.2 L338.8 605.5 L333.8 608.8 L328.8 616.2 L328 622.5 L325 624.5 L322 620 L322.5 610.5 L318.8 608 L312.5 610 L306.2 611.2 L300 612.5 L292.5 613 L288.8 610 L283.8 607.5 L280 609.5 L275 607.5 L271.2 610.5 L268.8 606.2 L265 603 L257 602.5 L256.2 597 L251.2 597.5 L246.2 595 L240 591.2 L238.8 585 L233.8 582 L228 583.8 L223.8 577.5 L216.2 573.8 L210 570 L203.8 566.2 L200 561.2 L195 560.5 L188.8 561.2 L185 568 L180 563 L172.5 560 L163.8 556.2 L158.8 551.2 L152.5 548.2 L146.2 547.5 L142.5 541.2 L142 535 L140 528.8 L136.2 523.8 L135 517 L141.2 515 L143.8 520 L147.5 520 L150.8 516.2 L150 511.2 L148.8 503.8 L145 500 L141.2 493.8 L140.8 486.2 L144.5 483.8 L146.2 478.8 L140 476.2 L133.8 474.5 L131.2 470 L129.5 463.8 L128.8 457 L118.8 457 L112.5 454.5 L105 452 L101.2 448.8 L94.5 448.2 L91.2 443.8 L92 437.5 L88.8 431.2 L82.5 430 L80 426.2 L72.5 425 L65.5 424.5 L65.5 421.2 L75 419.5 L76.2 415.5 L72.5 410 L71.2 402.5 L70 395 L62.5 392.5 L55 393.8 L52 391.2 L52.5 386.2 L48.8 381.2 L48 376.2 L53.8 373.8 L53.8 368.8 L55.5 362.5 L61.2 361.2 L67.5 358.8 L71.2 355.5 L78.8 353.8 L85 352 L87 358 L93.8 357 L101.2 355.5 L105 347.5 L108.8 343 L116.2 343.8 L123.8 342.5 L130 337.5 L136.2 335 L143.8 331.2Z"/>
</g>
<g id="provinces">
<path class="prov" d="M146.2 478.8 L160 477.5 L162.5 471.2 L166.2 465 L170 458.8 L175 458 L183.8 459.5 L191.2 462 L200 460 L205 453.8 L212.5 452 L217.5 455 L220 458 L230 459.2 L240 457.5 L247.5 453.8 L257.5 450.5 L263.8 452.5 L272.5 448.8 L275 443 L285 440.5 L295 438.8 L300 438.8 L307.5 437 L315 436.2 L325 440 L333.8 444.5"/>
<path class="prov" d="M386.2 383.8 L395 382 L400 383.8 L402.5 387 L410 387 L412.5 389.5 L421.2 390 L425 397.5 L432.5 396.2 L438.8 398 L445 397.5 L450 400.5 L455 402 L462.5 398.8 L463.8 394.5 L468.8 393 L469.5 382.5 L475 381.2 L485 386.2 L490 388 L493.8 385 L501.2 383.8 L507.5 387.5 L512.5 392.5 L518.8 397 L526.2 398.8 L536.2 402.5 L543.8 407.5 L552.5 410 L560 413.8 L565 420 L570 423.8 L571.2 431.2 L575 436.2 L577 442.5 L572.5 447.5 L571.2 453.8 L566.2 457.5 L565 460 L565.5 462 L564 464.5 L561 466.5 L558 468.5 L557.2 471 L557.5 474 L558 476 L561 476.5 L563 478.5 L562.5 480.5 L560 481.5 L558.5 483.5 L557.5 484.5 L554.5 484 L552 483.5 L549 482 L546 481 L543 480 L540 479 L538 479.5 L537 481.5 L536.5 483.5 L538 486 L539.5 488 L541.5 490 L543.5 492 L544.5 494 L547 493.5 L549.5 493.5 L551.5 495 L552 497.5 L554 497 L555.5 495.5 L557.5 496.5 L557 499 L555.5 501.5 L553.5 502.5 L552.5 504.5 L551 504 L549 503 L546.5 502.5 L544 502.8 L542.8 504.5 L543.5 507 L544 509 L545 511 L544 514 L541.5 515 L538.5 514.8 L536 515.5 L534.5 517.2 L532.5 515.5 L530.5 514 L528.5 512.5 L526.5 512 L525 514 L524 510 L522 508 L520 506.5 L518.3 512.5 L514.2 510.8 L510 508.3 L505.8 505.8 L501.7 503.3 L500 500 L498.8 497.5 L495 490 L493.8 485.5 L485 482.5 L480 486.2 L476.2 491.2 L477.5 497.5 L480 500 L478 506.2 L476.2 512.5 L476.2 515.5 L473.8 525 L467.5 527.5 L463.8 528.8 L465 533.8 L460 533.8 L455 535 L452.5 531.2 L447.5 532.5 L441.2 531.2 L438.8 525 L436.2 520 L430 517.5 L426.2 514.5 L417.5 518 L407.5 517 L398.8 513.8 L390 513 L380 511.2 L373.8 508 L365 505 L357.5 505 L350 502 L343.8 496.2 L340 490 L337 486.2 L340 480 L338.8 470 L333.8 463.8 L335 458.8 L338.8 455 L337.5 450 L332.5 447.5 L333.8 444.5 L343.8 441.2 L346.2 443.8 L357.5 443.8 L362.5 443.8 L361.2 436.2 L356.2 432.5 L358.8 427.5 L366.2 423.8 L363.8 417 L357.5 412.5 L352.5 410 L352.5 398.8 L346.2 398.8 L345.5 395.5 L353.8 392.5 L365 389.5 L375 387 L386.2 383.8"/>
<path class="prov" d="M457.5 308 L452.5 311.2 L451.2 316.2 L453.8 318.8 L453 323.8 L445 327 L438.8 332 L435 328.8 L430 331.2 L425 333.8 L418.8 338.8 L413.8 343.8 L411.2 348.8 L410.5 351.2 L395.5 352.5 L393.8 360 L391.2 370 L387.5 376.2 L385.5 380 L386.2 383.8"/>
<path class="prov" d="M472.5 307.5 L475 315 L478.8 323.8 L483.8 330 L480 333.8 L486.2 340 L492.5 345 L493.8 352.5 L500 350 L507.5 348.8 L515 346.2 L523.8 346.2 L527.5 350 L526.2 357.5 L522.5 362.5 L513.8 367 L522.5 370 L528.8 373.8 L536.2 376.2 L538.8 383.8 L546.2 386.2 L553.8 392 L560 387.5 L556.2 382.5 L565 380 L575 382.5 L585 377.5 L593.8 375 L598.8 380 L596.2 387.5 L590 393.8 L585 398.8 L583.8 406.2 L591.2 412.5 L600 416.2"/>
<path class="prov" d="M600 415.8 L606.7 415 L613.3 412.5 L620 410.8 L626.7 409.2 L627.5 404.2 L627 398.3 L628.3 391.7 L630.8 385 L634.2 380.8 L637.5 378.3 L643 377 L645.8 378.3 L647 381.7 L649.7 383.3 L648.3 386.7 L645.8 390.8 L642.5 395 L640 399.7 L645.8 401.7 L650 402.5 L655.8 405 L659.2 408.3"/>
<path class="prov" d="M600 416.7 L605.8 418.3 L608.3 422.5 L612.5 425.8 L616.7 429.2 L617.5 433.3 L620 438.3 L621.7 442.5 L618.3 445.8 L620 450 L625 452.5 L628.3 455.8 L632.5 457.5 L635.8 460.8 L639.2 461.3 L638.7 453.3 L641.7 450.8 L647.5 450 L647.5 445 L644.2 442.5 L639.2 440.8 L638.7 435.8 L637.5 433.3 L640.8 430 L641.3 424.2 L646.7 423.3 L653.3 423 L653.7 416.7 L655.8 411.7 L659.2 408.3"/>
<path class="prov" d="M653.3 423 L654.2 426.7 L660 429.2 L666.7 431.7 L671.7 434.2 L677.5 437.5 L679.2 441.7 L676.7 445.8 L675 450 L675.8 454.2 L677.5 457.5 L676.7 460.8 L670 461.3 L663.3 460.8 L660.8 462.5 L663.3 465.8 L661.7 467.5 L655 468.3 L652.5 469.2 L648.3 466.7 L644.2 465 L640.3 465.3 L640 470 L637.5 474.2 L638.3 479.2 L642.5 480.8 L640.8 485 L639.2 490 L638.3 494.2 L630 495 L626.7 498.3 L625 500"/>
<path class="prov" d="M659.2 408.3 L663.3 409.2 L666.7 410 L667.5 412.5 L673.3 412 L679.7 411.7 L680 408.3 L681.7 404.7 L685 405.8 L685.8 403.3 L684.2 400.8 L686.7 397.5 L690.8 392.5 L693.3 390 L695.8 386.7 L698.3 382.5 L701.7 380 L704.2 375.3 L706.7 377.5 L710 376.7 L713.3 378.7 L715.8 377 L719.2 374.7 L722.5 374.2 L724.2 376.3"/>
<path class="prov" d="M728.3 372 L726.7 375 L724.2 376.3 L723.3 380 L720.8 383.3 L719.2 388.3 L717.5 393.3 L715 397.5 L712 400.8 L711.7 405 L714.2 409.2 L716.3 413.3 L715 418.3 L711.7 422.5 L710 426.7 L709.7 431.7 L710.8 436.7 L711.3 441.7 L712 446.7 L713.3 451.7 L712 456.7 L710 460.8 L708.3 465 L706.7 469.2 L706.7 473.3 L708.3 475 L709.2 478.3 L712.5 481.7 L714.2 485.8 L713.3 489.2 L716.7 492.5 L719.2 495.8 L720.3 500"/>
<path class="prov" d="M708.3 475 L715 473.3 L721.7 471.7 L728.3 469.2 L733.3 466.7 L738.3 464.2 L740 461.7 L746.7 462 L753.3 460.8 L759.2 458.3 L764.2 455.8 L766.7 453.3 L767.5 448.3 L768.3 443.3 L769.7 439.2 L766.7 437.5 L765 433.3 L766.7 430.8 L768.7 429.2 L770.8 425 L773.3 420 L775.8 414.2 L774.7 410 L772.5 406.7 L770 402.5 L766.7 398.3 L766.7 395 L770 391.7 L771.7 386.7 L775 383.3 L780 382.5 L783.3 378.3 L784.2 373.3 L780.8 370 L778.3 366.7 L773.3 364.2 L775 360.8 L779.2 358.3 L783.3 357.5 L780 354.2 L777 350.8"/>
<path class="prov" d="M728.3 372 L733.3 373 L736.7 372.5 L739.2 367.5 L741.7 362.5 L745 358.7 L750 359.7 L754.2 357.5 L759.2 356.7 L764.2 355.8 L770 354.7 L775.8 353 L777 350 L775 345.8 L773.3 341.7 L770.8 338.3 L772.5 334.2 L776.7 332.5 L778.3 327.5 L780.8 323.3 L785 320.8 L789.2 320.3 L790 325 L790.8 330 L795.8 331.3 L800 330"/>
<path class="prov" d="M769.7 439.2 L775 440.8 L781.7 442.5 L788.3 443.3 L794.2 442.5 L800 441.7"/>
<path class="prov" d="M822 343.3 L823 345 L824.3 346.7 L826.3 348 L827.3 350 L829.7 350.7 L832.3 351 L835 350.7 L837 351 L835.7 352 L833.7 352.5 L832 354.3 L832.3 356.3 L833.3 358.3 L835 359.3 L833.3 361 L831.7 362.7 L829.7 363.5 L827 363.7 L824.3 363.8 L823.3 365 L824.7 366.7 L826.3 368 L826.7 369.7 L827 371.3 L825.3 371.7 L823.7 372.7 L821.7 372.9 L819.7 373.3 L818 375 L817 375.3 L815 374.3 L813 373.7 L811 373.3 L809 373 L807 374 L805.7 374.3 L804 373 L802.3 372 L801.3 370.3 L800.7 369 L801.3 367 L800.3 365.3 L800 364.3 L801.3 363 L803.7 362 L806 361 L808.3 359.7 L809.3 358.3 L807.3 357.3 L806 356 L805.3 354.3 L805.7 353 L807.7 352.5 L810 351.7 L812.3 351 L814 349.3 L815.7 348.3 L817 347.3 L816.7 345.7 L818 345 L820 344 L822 343.3"/>
<path class="prov" d="M824.3 363.8 L827 363.7 L829.7 363.5 L830.3 364.7 L831.3 366.3 L832 368 L831 369 L831.3 370.7 L830.7 371.7 L829.3 372 L828.3 371 L827.7 369.7 L826.7 369.7 L826.3 368 L824.7 366.7 L823.3 365 L824.3 363.8"/>
<path class="prov" d="M835 359.3 L836.7 360 L838.3 361.3 L840 362.7 L841 364 L841.7 364.7 L840.3 365.3 L838.3 364.7 L837.7 365.7 L838 367.7 L839 369.3 L840.3 371 L841.7 372.3 L843.3 373 L844.3 374.3 L844 376 L842.3 376.7 L840.3 376.9 L838.3 377 L837.7 378.2 L839.3 377.7 L841.7 377.5 L843.7 377.7 L845 379 L846.3 380 L845.7 381 L844 381.7 L843.7 383.7 L844 385.7 L844.3 386.7 L843 387.7 L841 388.7 L839.7 389 L841 390 L840.7 391.3 L839 392.7 L837.7 393.3 L835.7 393.7 L834 394.3 L832.3 394 L830.3 393.3 L829 392.3 L827 391.7 L825 390.7 L823.7 389.7 L823.3 388 L822.7 386.7 L823.7 385.3 L825 384 L826.3 382.7 L825.7 381 L825.3 379 L824.7 377.7 L825 375.7 L824.3 374 L823.7 372.7 L825.3 371.7 L827 371.3 L828.3 371 L829.3 372 L830.7 371.7 L831.3 370.7 L831 369 L832 368 L831.3 366.3 L830.3 364.7 L829.7 363.5 L831.7 362.7 L833.3 361 L835 359.3"/>
<path class="prov" d="M844.3 399 L843 400.3 L841.7 401.7 L840.3 403 L838.7 404.3 L837.7 406 L836.7 407.7 L835 408.3 L832.3 408.3 L829.7 408.3 L826.3 408.3 L824.3 408.7 L823 410 L821.7 411.7 L820.3 413.3 L819.3 415"/>
<path class="prov" d="M800 328.3 L805 325.8 L809.2 325 L811.7 327.5 L815.8 324.2 L820 323.3 L825 320.8 L825.8 316.7 L830 315 L835 312 L840 311.3 L843.7 312.5 L845.8 316.7 L848.3 320.8 L850.8 325 L851.7 328.3 L849.2 330.8 L850.8 334.2 L853.3 337 L858.3 337.5 L863.3 337 L866.7 339.2"/>
<path class="prov" d="M866.7 339.2 L869.2 335.8 L871.3 332.5 L870 328.3 L869.2 323.3 L868.7 318.3 L872.5 315.8 L875.8 317.5 L879.2 320.8 L881.7 325.8 L883.3 330 L885.8 326.7 L889.2 323.3 L893.3 320.8 L898.3 318.3 L903.3 316.7 L908.3 313.3 L913.3 311.7 L918.3 309.2 L923.3 307.5 L928.3 307.5 L933.3 305.8 L938.3 303.3 L943.3 301.7 L946.7 300"/>
<path class="prov" d="M866.7 339.2 L863.3 342.5 L861.7 346.7 L864.2 350 L869.2 350.8 L873.3 353.3 L875 356.7 L876.7 360.8 L878.3 363.7"/>
<path class="prov" d="M869.4 465.5 L866.7 465.5 L864.4 465.1 L862.1 466.5 L860.7 468.8 L858.4 471.5 L856.1 472.4 L853.8 474.2 L852.9 477.9"/>
<path class="prov" d="M800 475 L806.7 475 L813.3 475.3 L815.8 474.2 L816.7 470.8 L819.2 468.7 L823.3 468 L826.7 469.7 L829.2 473.3 L830.8 476.7 L834.2 476.7 L838.3 475.8 L843.3 474.7 L847.5 475 L850 477.5 L853.7 476.7"/>
<path class="prov" d="M814.2 475.8 L815 479.2 L818.3 480.8 L820.8 484.2 L821.7 487.5 L820 490 L816.7 490.8 L813.3 492.5 L810.8 490 L807.5 487.5 L803.3 485.8 L800 486.7"/>
<path class="prov" d="M826.7 478.3 L828.3 482.5 L832.5 485 L837.5 485.8 L840.8 488.3 L841.7 491.7 L845.8 493 L849.2 493.7 L848.3 497.5 L845.8 500 L845 503.3 L848.3 505 L850.8 508.3 L852.5 512.5 L856.7 514.2 L860 511.7 L862.5 509.2 L865 510 L867.5 512.5 L867.5 515.8 L864.2 517.5 L861.7 516.7 L857.5 517.5 L858.3 520 L857.5 523.3 L855 525 L852.5 527.5 L853.3 530 L855.8 532.5 L859.2 534.2 L860.8 536.7 L860 540.8 L861.7 542.5 L865.8 542.5 L870 543.3 L874.2 545 L876.7 545"/>
<path class="prov" d="M876.7 545 L880.8 547.5 L884.2 549.2 L887.5 550 L890.8 552.5 L893.3 550.8 L895.8 549.2 L898.3 546.7 L900 545 L901.7 541.7 L904.2 540 L906.7 537.5"/>
<path class="prov" d="M898.3 546.7 L900 550 L902.5 552.5 L905 555"/>
<path class="prov" d="M876.7 545 L875 549.2 L873.3 552.5 L870 555.8 L869.2 560 L865.8 562.5 L862.5 564.2 L861.7 568.3 L859.2 571.7 L856.7 575 L853.3 578.3 L850 580.8 L848.3 582.5 L846.7 585.8 L848.3 589.2 L850.8 591.7 L853 595 L854.2 600 L855 604.2"/>
<path class="prov" d="M850 580.8 L846.7 578.3 L842.5 577.5 L839.2 575 L835.8 572.5 L832.5 570.8 L830 573.3 L826.7 575.8 L822.5 576.7 L821.7 573.3 L825 570.8 L825.8 568.3 L822.5 567.5 L820 570 L816.7 572.5 L812.5 573.3 L806.7 573.7 L800 574.2"/>
<path class="prov" d="M855 604.2 L851.7 605.8 L848.3 607.5 L844.2 609.2 L840 610.8 L836.7 611.7 L833.3 614.2 L830 616.7 L829.2 620 L830 624.2 L827.5 627.5 L824.2 630 L820.8 632.5 L819.2 636.7 L820 640.8 L818.3 644.2 L817.5 650"/>
<path class="prov" d="M855 604.2 L857.5 604.2 L859.2 608.3 L860.8 612.5 L862.5 616.7 L863.3 620 L866.7 620.8 L870.8 619.2 L873.3 616.7 L875.8 618.3 L876.7 621.7 L880 623.3 L884.2 621.7 L888.3 622.5 L890.8 624.2"/>
<path class="prov" d="M800 518.3 L805 517.5 L808.3 516.7 L809.2 521.7 L808.3 526.7 L807.5 531.7 L804.2 533.3 L800 536.7"/>
<path class="prov" d="M800 541.7 L803.3 544.2 L807.5 546.7 L810.8 549.2 L808.3 552.5 L805.8 555 L807.5 559.2 L810.8 563.3 L812.5 568.3 L811.7 573.3"/>
<path class="prov" d="M625 500 L626.3 501.7 L629.2 503.3 L629.7 507.5 L629.2 510.8"/>
<path class="prov" d="M606.7 515.3 L611.7 514.2 L616.7 513.3 L620 512.5 L620.3 510 L622.5 509.7 L625 511.7 L629.2 510.8 L630.8 512.5 L635.8 513.3 L641.7 514.2 L645 513 L649.2 514.2 L651.7 517.5 L655.8 518.3 L660 520.8 L665 523 L670 523.3 L673.3 522.5 L675 524.2 L679.2 526.3 L683.3 528.3 L686.7 530 L689.2 532.5 L692.5 533.3 L695.8 533"/>
<path class="prov" d="M695.8 533 L695 528.3 L694.2 523.3 L693.7 519.2 L695.8 515.8 L700 515 L705 514.2 L705 510.8 L702.5 508.3 L698.3 506.7 L699.2 504.2 L695 504.2 L692.5 503.3 L698.3 503 L705 503.3 L711.7 503.7 L716.7 503 L720 502.5"/>
<path class="prov" d="M720.3 500 L720 502.5"/>
<path class="prov" d="M720 502.5 L723.3 505.8 L725.8 510 L729.2 513.3 L733.3 516.7 L738.3 519.2 L743.3 520.8 L750 520 L756.7 519.7 L761.7 520 L766.7 521.7 L769.2 520 L770.3 524.2 L770 527.5 L773.3 530.8 L777.5 532.5 L783.3 533.3 L785 535.8 L790 536.7 L795 539.2 L800 540.8"/>
<path class="prov" d="M675 524.2 L673.3 527.5 L672.5 531.7 L675.8 534.2 L673.3 537.5 L670 540.8 L668.3 545 L665.8 548.3 L663.3 550.8 L659.2 552 L657.5 555 L655.8 559.2 L654.2 563.3 L651.7 566.7 L648.3 568.3 L644.2 567.5 L641.7 564.2 L639.2 563.3 L635.8 565 L631.7 563.3 L627.5 560.8 L625 563.3 L625 566.7 L624.7 570 L622.5 572.5 L620 575 L618.3 577.5 L620 581.7 L624.2 583.3 L625.8 587.5 L629.2 590.8 L633.3 592.5 L637.5 593.3 L637 598.3"/>
<path class="prov" d="M637 598.3 L640.8 599.2 L644.2 596.7 L647.5 595 L650 591.7 L653.3 590 L656.7 585.8 L660 585 L664.2 587.5 L668.3 588.3 L671.7 589.2 L672.5 593.3 L675 596.7 L676.7 600.8 L678.3 603.3 L681.7 605 L685.8 604.2 L687.5 601.7 L688.3 600.8"/>
<path class="prov" d="M695.8 533 L700 535.8 L703.3 539.2 L705.3 543.3 L705.8 547.5 L704.2 550.8 L700 551.7 L695.8 553.3 L692.5 555.8 L688.3 556.7 L685 555.8 L680.8 557.5 L677.5 558.3 L674.2 560 L675 564.2 L676.7 568.3 L675 572.5 L677.5 574.2 L680.8 576.7 L683.3 580 L686.7 582.5 L688.3 586.7 L689.2 591.7 L688.3 596.7 L688.3 600.8"/>
<path class="prov" d="M688.3 586.7 L690 581.7 L691.7 577.5 L695 575 L700 574.2 L705 573.3 L709.2 574.2 L711.7 570.8 L713.3 567.5 L716.7 566.7 L721.7 567.5 L726.7 569.2 L731.7 570.3 L736.7 572.5 L740 575 L743.3 577.5 L747.5 575.8 L751.7 575 L755.8 574.2 L756.7 578.3 L760 579.2 L764.2 576.7 L765.8 573.3 L767.5 575.8 L769.2 579.2 L768.3 583.3 L770 586.7 L773.3 587.5 L776.7 583.3 L781.7 581.7 L786.7 580 L791.7 578.3 L796.7 576.7 L800 575.3"/>
<path class="prov" d="M773.3 587.5 L775.8 591.7 L777.5 595.8 L778.3 600.8 L776.7 604.2 L773.3 607.5 L770.8 610.8 L768.3 614.2 L766.7 618.3 L767.5 623.3 L770 626.7 L770.8 630.8 L771.7 635 L774.2 638.3 L775.8 642.5 L776.7 646.7 L775 650"/>
<path class="prov" d="M688.3 600.8 L689.2 606.7 L690 611.7 L690.8 615.8 L688.3 620 L685 623.3 L681.7 626.7 L680.8 628.3 L683.3 629.2 L686.7 627.5 L690 628.3 L693.3 630 L694.2 632.5 L692.5 635.8 L690.8 638.3 L690 642.5 L690.8 646.7 L693.3 650"/>
<path class="prov" d="M475.8 515.8 L479.2 516.7 L483.3 517.5 L488.3 519.2 L491.7 522.5 L494.2 526.7 L495 531.7 L497.5 535.8 L500.8 539.2 L501.7 540.8 L498.3 542.5 L497.5 545 L500 548.3 L502.5 551.7 L504.2 555 L504.2 560 L504.7 565 L505.3 570 L505.8 575 L505.8 580 L506.7 585 L506.3 588.3 L503.3 588.3 L503.7 591.7 L501.7 592.5 L500 590 L498.3 590.8 L499.2 595 L500 599.2 L499.2 603.3 L496.7 605.8 L493.3 606.7 L490.8 604.2 L490 606.7"/>
<path class="prov" d="M506.3 588.3 L507.5 593.3 L508.3 598.3 L510 602.5 L511.3 605.8 L512.5 601.7 L513.3 597.5 L515.8 593.3 L518.3 594.7 L520.8 597.5 L523.3 600 L525.8 602.5 L523.3 605.8 L525 608.3 L527.5 611.7 L530 614.2 L533.3 612.5 L535.8 611.7 L536.7 615 L538.3 618.3 L540 622.5 L541.7 625.8 L543.3 629.2 L545.8 632.5 L548.3 634.2 L549.7 638.3 L548.3 640.8 L550.8 643.3 L552.5 645.8 L555 648.3 L559.2 648.7 L562.5 646.7 L565.8 644.2 L569.2 643.3 L570.8 645 L574.2 644.2 L576.7 641.7 L577.5 637.5 L575.8 633.3 L575 628.3 L574.7 623.3 L576.7 620 L580 616.7 L582.5 614.2 L584.2 610 L585.8 606.7 L588.3 604.2 L590.8 600.8 L591.3 596.7 L595 596.3 L600 596.3 L602 598.3 L600 600 L600 604.2 L600.8 608.3 L601.7 611.7 L605 613.3 L609.2 611.7 L612.5 609.2 L615 607.5 L617.5 610 L618.3 614.2"/>
<path class="prov" d="M618.3 614.2 L617.5 617.5 L615 620 L612.5 623.3 L609.2 624.2 L605.8 622.5 L601.7 622.5 L597.5 622.5 L593.3 624.2 L590 626.7 L588.3 629.2 L589.2 632.5 L590.8 636.7 L592.5 639.2 L596.7 638 L600.8 636.7 L604.2 638.3 L606.3 641.7 L605.8 645.8 L604.2 650 L601.7 653.3 L600.8 656.7 L602.5 660 L605.8 663.3 L608.3 665.8 L609.2 668.3 L606.7 671.7 L605 675 L604.2 679.2 L605.8 681.7 L610 682.5 L614.2 683.3 L616.7 686.7 L618.3 690 L623.3 689.2 L628.3 690 L632.5 691.7 L634.2 695.8 L634.2 700 L633.8 698.8 L630 701.2 L625 702.5 L622.5 706.2 L620.5 704.5"/>
<path class="prov" d="M605 676.7 L610 675.8 L614.2 673.3 L617.5 671.7 L621.7 674.2 L625.8 675.8 L630 677.5 L633.3 675 L637.5 672.5 L641.7 670.8 L645.8 668.3 L648.3 664.2 L649.2 660 L650 659.2"/>
<path class="prov" d="M618.3 614.2 L623.3 615 L630 614.7 L635.8 614.2 L636.7 610 L634.2 606.7 L630.8 605.8 L627.5 604.2 L625 601.7 L624.2 599.2 L626.7 596.7 L630 594.2 L633.3 595.8 L636.7 598.3 L638.3 600.8 L640 595 L642.5 597.5 L644.2 600 L646.7 595 L650 591.7"/>
<path class="prov" d="M620.8 575 L618.3 576.7 L619.2 580.8 L621.7 583.3 L625 585 L626.7 589.2 L630.8 590.8 L634.2 592.5 L637.5 593.3 L638.3 596.7 L638.3 600.8"/>
<path class="prov" d="M553.5 502.5 L554 504.5 L555.5 505.5 L557.5 504.5 L560 503 L562.5 503.5 L562 501.5 L563.5 499.5 L566 499 L567.8 498 L567 496 L564.5 494.5 L564 492 L562.5 490 L561.5 487.5 L564 487 L567 486 L569.5 484 L572 482 L575 480.5 L577 482 L578.5 484 L579.5 487 L579.5 490 L581.5 491.5 L584.5 492 L588 493 L591 494 L594 493.2 L596.5 494 L598 496.5 L599 499 L601 501 L601.5 504 L601 506.5 L599.5 508.5 L599.5 511 L602 512.5 L605 514 L607 514.8"/>
<path class="prov" d="M626.7 500 L629.2 503.3 L629.2 507.5 L625 509.2 L621.7 510 L620.8 512.5"/>
<path class="prov" d="M819.2 415 L815.8 418.3 L812.5 420.8 L809.2 424.2 L806.7 427.5 L803.3 430 L800 432.5 L798 435 L798.3 438.3 L800 441.7 L799.2 445.8 L800 450"/>
<path class="prov" d="M799.2 445.8 L804.2 445 L808.3 443.7 L812 443.3 L811.7 445 L807.5 447 L803.3 448.7 L800 450"/>
<path class="prov" d="M800 450 L797.5 453.3 L794.2 456.7 L790.8 460 L788.3 465 L791.7 466.7 L795.8 469.2 L799.2 472.5 L801.7 475"/>
<path class="prov" d="M804.2 485.3 L803 489.2 L801.7 493.3 L800.8 497.5 L797.5 500 L795.8 504.2 L791.7 505.8 L790.8 508.3 L794.2 511.7 L796.7 515 L801.7 516.7"/>
<path class="prov" d="M801.7 535.8 L799.2 538.3 L800 541.7"/>
<path class="prov" d="M910 91.7 L911.7 94.2 L914.2 96.7 L912.5 100 L909.2 103.3 L905.8 105.8 L904.2 107.5 L907.5 110 L912.5 113 L917.5 111.7 L921.7 109.2 L925.8 110.8 L930 113.7 L931.3 117.5 L930.3 120.8 L932 125 L934.2 130 L936.7 133.7 L941.7 134.2 L947.5 132.5 L951.7 133.3 L956.7 133 L961.7 133.3 L966.7 132.5 L970 130 L973.3 126.7 L977.5 127.5 L980.8 130 L984.2 133.3 L987.5 135.8 L990 138 L990.8 140.8 L989.2 142.5 L985.8 145 L985 149.2 L981.7 152.5 L979.2 155.8 L976.7 160 L975.8 165 L974.7 170 L976.7 173.3 L975.8 176.7 L972.5 178 L969.2 178.7 L967.5 182.5 L965.8 185.8 L964.2 190 L963.3 195 L962.5 199.2 L960.8 195.8 L959.2 191.7 L956.7 190.3 L955 192.5 L950 195.8 L945 199.2 L940 202.5 L935 205.8 L930 209.2 L925.8 213.3 L925.8 215.8 L928.3 219.2 L931.7 222.5 L934.2 225.8 L937.5 226.7 L940.8 224.2 L945 222.5 L947.5 225 L945 228.3 L940 229.2 L935.8 230 L935.8 233.3 L937.5 235.8 L941.7 236.7 L946.7 235.8 L951.7 235.8 L953.3 238.3 L954.2 242.5 L954.2 246.7 L957.5 249.2 L960.8 251.7 L965 253.3 L970 252 L975 253 L980 252.5 L984.2 252 L985.8 253.3"/>
<path class="prov" d="M937.5 236.3 L933.3 239.2 L932.5 243.3 L929.2 245 L925 243.3 L921.7 244.2 L916.7 242 L914.2 241.7 L911.7 246.7 L915.8 248.3 L919.2 251.7 L920.8 256.7 L920 261.7 L919.2 265.8 L920.8 270.8 L923.3 276.7 L929.2 276.7 L933.3 275 L937.5 272.5 L939.2 275 L940.8 279.2 L942.5 281.7 L943.7 284.2 L944.7 287.5 L942.5 290 L941.7 293.3"/>
<path class="prov" d="M985.8 253.3 L986.7 255.8 L990 256.7 L993.3 257.5 L996.7 258.3 L1000 257.5 L1003.3 258.3 L1006.7 260.8 L1009.2 264.2 L1008.3 268.3 L1010.8 270 L1015 270.8 L1016.7 273.3 L1018.3 276.7 L1020 280 L1023.3 281.3 L1026.7 280 L1029.2 276.7 L1030 273.3 L1032.5 270.8 L1034.2 275 L1035.8 280 L1038.3 285 L1040 290 L1042.5 292.5 L1046.7 291.7 L1047.5 287.5 L1050 285.8 L1055 285 L1059.2 283.3 L1062.5 284.2 L1066.7 282.5 L1068.3 286.7 L1070.8 290 L1075 291.7 L1080 293.3 L1084.2 295"/>
<path class="prov" d="M941.7 293.3 L945 296.7 L947.5 300"/>
<path class="prov" d="M941.7 293.3 L945 295 L948.3 295 L951.7 295.8 L955 297.5 L957.5 300.8 L960 303.3 L961.7 306.3 L964.2 304.2 L966.7 300.8 L969.2 300.8 L970 305 L972.5 310 L975 315 L977.5 318.3 L980 321.7 L978.3 325 L976.7 327.5 L979.2 331.7 L981.7 335.8 L984.2 339.2 L985.3 342.5 L983.3 345.8"/>
<path class="prov" d="M650 659.2 L653.3 660 L656.7 664.2 L660.8 666.7 L663.3 668.3 L667.5 667 L670 662.5 L673.3 660.8 L676.7 663.3 L679.2 660 L683.3 659.2 L685.8 655.8 L690 654.2 L693.3 650.8 L697.5 650 L700 648.3 L703.3 647.5 L705.8 650 L709.2 650.8 L711.7 647.5 L714.2 645 L718.3 643.3 L722.5 645 L725.8 646.7 L726.7 650.8 L729.2 654.2 L726.7 657.5 L725.8 661.7 L723.3 665 L720.8 668.3 L720 671.7 L723.3 670.8 L726.7 669.2 L728.3 673.3 L730 676.7 L733.3 677.5 L736.7 675.8 L737.5 676.7"/>
<path class="prov" d="M737.5 676.7 L740.8 673.3 L741.7 669.2 L745.8 668 L750 668.3 L753.3 669.2 L754.2 665 L756.7 663 L760 660.8 L764.2 663 L768.3 664.2 L773.3 663.7"/>
<path class="prov" d="M766.7 620 L769.2 623.3 L770.8 627.5 L771.7 632.5 L772.5 636.7 L775.8 640 L775 644.2 L777.5 646.7 L775.8 650 L774.2 654.2 L773.3 659.2 L773.3 663.7"/>
<path class="prov" d="M773.3 663.7 L778.3 664.7 L783.3 663 L787.5 665 L787.5 668.3 L784.2 671.7 L781.7 674.2 L779.2 677.5 L780 680 L783.3 679.2 L788.3 678.3 L793.3 677.5 L798.3 675.8 L802.5 676.7 L805 679.2 L806.7 675"/>
<path class="prov" d="M806.7 675 L807.5 670.8 L808.3 665.8 L810 661.7 L811.7 657.5 L814.2 653.3 L816.7 650 L818.3 645.8 L820 641.7 L819.2 636.7 L821.7 632.5 L825 629.2 L829.2 625.8 L830.8 622.5 L830 620"/>
<path class="prov" d="M806.7 675 L810.8 673.3 L815 674.2 L818.3 675.8 L823.3 678.3 L825 682.5 L826.7 686.7 L827.5 691.7 L829.2 696.7 L830 700 L829.2 701.7"/>
<path class="prov" d="M737.5 676.7 L739.2 680.8 L738.3 685 L736.7 688.3 L735.8 692.5 L733.3 695 L730.8 698.3 L728.3 701.7 L726.7 705.8 L727.5 710.8 L725.8 715 L723.3 716.7 L720 719.2 L715.8 720.8 L715 725 L713.3 728.3 L710 729.2 L708.3 732.5 L705.8 735 L702.5 735.8 L700 738.3 L698.3 741.7 L699.2 744.2"/>
<path class="prov" d="M917.9 534.3 L916.7 534.3 L914 534.1 L911.3 534.3 L909.3 533.7 L907.7 532 L906.3 530.7 L905 530 L903.3 531.3 L902 533.3 L903 534 L904.7 535 L906.3 536"/>
</g>
<g id="water">
<path class="water" d="M906.3 536 L908 537 L910 538.3 L911.3 538 L913.3 537.7 L915.3 538.3 L916.7 539.7 L918.7 541 L920.7 542 L919.7 543.3 L918 543.3 L916.7 544.7 L916 546.3 L914 544 L911.3 541.3 L908.7 539.3 L906.7 538Z"/>
</g>
<g id="blobs">
<path class="blob" d="M915.3 565.3 L918 563.3 L920.7 562.7 L923.3 564 L926 567.3 L926.7 570 L924.7 572 L923.3 574 L921.3 576.7 L919.3 575.3 L918 573.3 L916 571.3 L914.7 568.7Z"/>
<path class="blob" d="M916.7 562.3 L920.7 561.3 L925.3 563.3 L925.3 564.3 L920.7 563.3 L918 563.3Z"/>
<path class="blob" d="M922 559.2 L925.7 559.2 L925.7 560.5 L922 560.5Z"/>
<path class="blob" d="M875.3 635.8 L880 634.7 L884.2 635.3 L884.7 638.3 L880.8 639.7 L876.7 639.2Z"/>
<path class="blob" d="M870.8 659.2 L875 657.5 L879.2 658.3 L878.7 661.3 L875 663.3 L871.3 662.5Z"/>
<path class="blob" d="M862.5 666.7 L865.8 665.3 L866.7 668 L864.2 669.7Z"/>
<path class="blob" d="M873.3 698.3 L875.8 698 L876.3 700.3 L874.2 700.8Z"/>
<path class="blob" d="M899.7 609.2 L903 607.5 L904.2 610.3 L901.7 613Z"/>
<path class="blob" d="M772.5 723.3 L776.7 720.8 L780.8 721.7 L781.7 725 L778.3 727.5 L774.2 727.5Z"/>
<path class="blob" d="M746.7 737.5 L752.5 736.7 L753.3 739.2 L748.3 740.3Z"/>
<path class="blob" d="M707 751.7 L710.8 749.3 L713 751.7 L712 754.3 L708.3 754.2Z"/>
<path class="blob" d="M766.7 729.2 L769.2 728 L770.3 730.3 L768 731.3Z"/>
</g>
<g id="islands">
<path class="isl" d="M909.2 664.2 L912.5 665.8 L915.8 668.3 L918.3 671.3 L915.8 674.2 L915 678.3 L914.2 683.3 L912.5 688.3 L910.8 693.3 L909.7 698.3 L908.3 703.3 L907.5 708.3 L905.8 712.5 L903.3 716.7 L900.8 720 L899.2 724.2 L898.7 729.2 L898.3 733.3 L895.8 734.7 L894.2 732.5 L893.7 728.3 L893 725 L890 723.3 L887.5 720 L885.3 716.7 L884.2 712.5 L882.5 709.2 L883 703.3 L883.7 698.3 L885.8 694.2 L888.3 690 L890.8 685.8 L893.3 681.7 L895.8 676.7 L898.3 672.5 L900.8 669.2 L904.2 667.5 L906.7 665Z"/>
<path class="isl" d="M677.5 786.7 L680.8 784.2 L685 780.8 L688.3 776.7 L691.7 774.2 L695.8 772.5 L700 772 L705 771.7 L710 770.8 L714.2 770 L717.5 771.7 L720 775 L721.7 778.3 L720.8 781.7 L718.3 784.2 L715.8 787.5 L713.3 791.7 L712.5 796.7 L710 800 L706.7 802.5 L702.5 805 L699.2 807.5 L696.7 810.8 L693.3 810.8 L689.2 809.2 L684.2 806.7 L680 805 L677.5 802.5 L678.3 797.5 L677.5 792.5Z"/>
<path class="isl" d="M770 1026.3 L773.8 1023.8 L777.5 1020.5 L782 1019.5 L784.5 1020.8 L781.3 1024.5 L777.5 1027 L772.5 1027.5Z"/>
</g>
<g id="sea">
<path class="sea" stroke-width="2" d="M932 679.5 L927 702"/>
<path class="sea" stroke-width="1" d="M916.3 738 L902.5 756.3"/>
<path class="sea" stroke-width="1" d="M882.5 792 L872 814.5"/>
<path class="sea" stroke-width="2" d="M865 853 L865 875.5"/>
<path class="sea" stroke-width="1" d="M863.8 936 L860 950 L855.5 959.5"/>
<path class="sea" stroke-width="1" d="M814.5 1018 L801 1035.5"/>
<path class="sea" stroke-width="1" d="M753.8 1105.5 L734.5 1112"/>
<path class="sea" stroke-width="1" d="M670.5 1037 L669.5 1047.5 L671.3 1059.5"/>
<path class="sea" stroke-width="1.6" d="M708 931.3 L707.5 940 L705.5 947.5 L703 952.5"/>
<path class="sea" stroke-width="1" d="M689.3 850.5 L695 858.8 L698.8 867.5 L699.5 873"/>
<path class="sea" stroke-width="2" d="M748.3 1060 L749 1066 L750 1072.5"/>
<path class="sea" stroke-width="1" d="M748.8 1078 L755 1079"/>
<path class="sea" stroke-width="1" d="M692.5 1031.3 L696 1029 L700 1027.5"/>
<path class="dot" d="M785.1 947 L786.9 947"/>
<path class="dot" d="M823.1 947 L824.9 947"/>
<path class="dot" d="M786.6 955 L788.4 955"/>
<path class="dot" d="M783.1 960 L784.9 960"/>
<path class="dot" d="M775.1 959.5 L776.9 959.5"/>
<path class="dot" d="M790.1 959.5 L791.9 959.5"/>
<path class="dot" d="M831.6 956 L833.4 956"/>
<path class="dot" d="M833.1 962.5 L834.9 962.5"/>
<path class="dot" d="M841.1 961 L842.9 961"/>
<path class="dot" d="M805.1 967.5 L806.9 967.5"/>
<path class="dot" d="M819.1 969.5 L820.9 969.5"/>
<path class="dot" d="M824.1 967 L825.9 967"/>
<path class="dot" d="M766.6 972.5 L768.4 972.5"/>
<path class="dot" d="M778.1 972 L779.9 972"/>
<path class="dot" d="M786.1 971 L787.9 971"/>
<path class="dot" d="M770.1 976 L771.9 976"/>
<path class="dot" d="M796.6 974 L798.4 974"/>
<path class="dot" d="M810.1 975 L811.9 975"/>
<path class="dot" d="M833.1 972.5 L834.9 972.5"/>
<path class="dot" d="M785.1 980 L786.9 980"/>
<path class="dot" d="M801.6 980 L803.4 980"/>
<path class="dot" d="M807.1 982.5 L808.9 982.5"/>
<path class="dot" d="M818.6 982 L820.4 982"/>
<path class="dot" d="M747.1 987 L748.9 987"/>
<path class="dot" d="M811.6 986 L813.4 986"/>
<path class="dot" d="M799.1 989.5 L800.9 989.5"/>
<path class="dot" d="M776.1 990 L777.9 990"/>
<path class="dot" d="M809.1 992 L810.9 992"/>
<path class="dot" d="M818.1 995 L819.9 995"/>
<path class="dot" d="M822.1 997 L823.9 997"/>
<path class="dot" d="M814.1 1000 L815.9 1000"/>
<path class="dot" d="M768.1 994.5 L769.9 994.5"/>
<path class="dot" d="M773.1 1001 L774.9 1001"/>
<path class="dot" d="M776.6 1002.5 L778.4 1002.5"/>
<path class="dot" d="M784.6 1000.5 L786.4 1000.5"/>
<path class="dot" d="M741.6 1000.5 L743.4 1000.5"/>
<path class="dot" d="M748.1 1001 L749.9 1001"/>
<path class="dot" d="M753.1 1000 L754.9 1000"/>
<path class="dot" d="M729.1 1006 L730.9 1006"/>
<path class="dot" d="M795.1 1009.5 L796.9 1009.5"/>
<path class="dot" d="M801.1 1008 L802.9 1008"/>
<path class="dot" d="M754.1 1009.5 L755.9 1009.5"/>
<path class="dot" d="M761.1 1014.5 L762.9 1014.5"/>
<path class="dot" d="M771.6 1019 L773.4 1019"/>
<path class="dot" d="M785.1 1015.5 L786.9 1015.5"/>
<path class="dot" d="M736.6 1017 L738.4 1017"/>
<path class="dot" d="M731.6 1022.5 L733.4 1022.5"/>
<path class="dot" d="M729.1 1027 L730.9 1027"/>
<path class="dot" d="M711.1 1016 L712.9 1016"/>
<path class="dot" d="M701.6 1020.5 L703.4 1020.5"/>
<path class="dot" d="M754.1 1022 L755.9 1022"/>
<path class="dot" d="M790.1 1028 L791.9 1028"/>
<path class="dot" d="M788.1 1034 L789.9 1034"/>
<path class="dot" d="M770.1 1030.5 L771.9 1030.5"/>
<path class="dot" d="M765.1 1040 L766.9 1040"/>
<path class="dot" d="M759.6 1052.5 L761.4 1052.5"/>
<path class="dot" d="M739.1 1102 L740.9 1102"/>
<path class="dot" d="M728.6 832.5 L730.4 832.5"/>
<path class="dot" d="M742.1 835.5 L743.9 835.5"/>
<path class="dot" d="M729.6 845.5 L731.4 845.5"/>
<path class="dot" d="M732.9 843.8 L734.7 843.8"/>
<path class="dot" d="M737.9 847.5 L739.7 847.5"/>
<path class="dot" d="M746.6 847 L748.4 847"/>
<path class="dot" d="M749.1 845.5 L750.9 845.5"/>
<path class="dot" d="M731.6 851.3 L733.4 851.3"/>
<path class="dot" d="M734.1 853.8 L735.9 853.8"/>
<path class="dot" d="M746.6 853.8 L748.4 853.8"/>
<path class="dot" d="M741.1 860.5 L742.9 860.5"/>
<path class="dot" d="M774.1 855 L775.9 855"/>
<path class="dot" d="M779.1 853.8 L780.9 853.8"/>
<path class="dot" d="M785.4 851.3 L787.2 851.3"/>
<path class="dot" d="M789.1 853.8 L790.9 853.8"/>
<path class="dot" d="M782.9 862.5 L784.7 862.5"/>
<path class="dot" d="M771.6 865 L773.4 865"/>
<path class="dot" d="M755.4 783 L757.2 783"/>
<path class="dot" d="M770.9 789.5 L772.7 789.5"/>
<path class="dot" d="M822.1 847.5 L823.9 847.5"/>
<path class="dot" d="M841.1 872 L842.9 872"/>
<path class="dot" d="M798.6 896.5 L800.4 896.5"/>
<path class="dot" d="M874.1 699.5 L875.9 699.5"/>
<path class="dot" d="M871.6 707.5 L873.4 707.5"/>
<path class="dot" d="M809.1 752 L810.9 752"/>
<path class="dot" d="M824.1 758.8 L825.9 758.8"/>
<path class="dot" d="M919.1 659.5 L920.9 659.5"/>
<path class="dot" d="M942.9 655.5 L944.7 655.5"/>
<path class="dot" d="M947.1 652 L948.9 652"/>
<path class="dot" d="M962.9 652 L964.7 652"/>
<path class="dot" d="M907.9 718.8 L909.7 718.8"/>
<path class="dot" d="M908.6 730.5 L910.4 730.5"/>
<path class="dot" d="M914.9 600 L916.7 600"/>
<path class="dot" d="M900.8 620 L902.6 620"/>
<path class="dot" d="M870.8 707.5 L872.6 707.5"/>
<path class="dot" d="M918.8 659 L920.6 659"/>
<path class="dot" d="M925.8 379.2 L927.6 379.2"/>
<path class="dot" d="M928.3 379.7 L930.1 379.7"/>
<path class="dot" d="M930.8 383.3 L932.6 383.3"/>
<path class="dot" d="M934.4 378.3 L936.2 378.3"/>
<path class="dot" d="M938.3 383.3 L940.1 383.3"/>
<path class="dot" d="M897.4 398.3 L899.2 398.3"/>
<path class="dot" d="M895.4 401.7 L897.2 401.7"/>
<path class="dot" d="M893.3 405.3 L895.1 405.3"/>
<path class="dot" d="M894.4 408 L896.2 408"/>
<path class="dot" d="M884.4 450.8 L886.2 450.8"/>
<path class="dot" d="M925.8 554.2 L927.6 554.2"/>
<path class="dot" d="M931.6 554.2 L933.4 554.2"/>
<path class="dot" d="M922.4 560 L924.2 560"/>
<path class="dot" d="M924.1 561.7 L925.9 561.7"/>
<path class="dot" d="M930.8 566.3 L932.6 566.3"/>
<path class="dot" d="M914.9 600 L916.7 600"/>
<path class="dot" d="M900.8 620.8 L902.6 620.8"/>
<path class="dot" d="M902.4 616.7 L904.2 616.7"/>
</g>
</g>
<g id="frame" fill="#000" shape-rendering="crispEdges"><rect x="24" y="24" width="1152" height="1"/><rect x="24" y="24" width="1" height="1152"/><rect x="1174" y="24" width="2" height="1152"/><rect x="24" y="1174" width="1152" height="2"/></g>
<g id="title" font-size="52" fill="#000">
<text class="cjk" x="49" y="108" font-size="52">父系</text>
<text class="cjk" x="154.5" y="108.1" font-size="31.3" style="font-weight:900">：</text>
<text class="sans" x="218.3" y="107" textLength="264.2" lengthAdjust="spacingAndGlyphs">C-Y94883_</text>
<text class="sans" x="497" y="107">(</text>
<text class="cjk" x="515" y="108" font-size="52">不含下游</text>
<text class="sans" x="723" y="107">)</text>
</g>
<g id="legend">
<text class="cjk" x="54.5" y="786" font-size="34.5" fill="#000" textLength="145" lengthAdjust="spacing">相对占比</text>
<rect x="58" y="805.2" width="33" height="33.86" fill="#FFFFE5"/>
<rect x="58" y="838.76" width="33" height="33.86" fill="#FFF8C1"/>
<rect x="58" y="872.32" width="33" height="33.86" fill="#FEE79B"/>
<rect x="58" y="905.88" width="33" height="33.86" fill="#FECE65"/>
<rect x="58" y="939.44" width="33" height="33.86" fill="#FEAC3A"/>
<rect x="58" y="973" width="33" height="33.86" fill="#F68720"/>
<rect x="58" y="1006.56" width="33" height="33.86" fill="#E1640E"/>
<rect x="58" y="1040.12" width="33" height="33.86" fill="#C14702"/>
<rect x="58" y="1073.68" width="33" height="33.86" fill="#933204"/>
<rect x="58" y="1107.24" width="33" height="33.86" fill="#662506"/>
<text class="sans" x="100" y="834" font-size="28" fill="#000" textLength="218" lengthAdjust="spacingAndGlyphs">0.020% - 0.044%</text>
<text class="sans" x="100" y="867.56" font-size="28" fill="#000" textLength="218" lengthAdjust="spacingAndGlyphs">0.044% - 0.069%</text>
<text class="sans" x="100" y="901.12" font-size="28" fill="#000" textLength="218" lengthAdjust="spacingAndGlyphs">0.069% - 0.105%</text>
<text class="sans" x="100" y="934.68" font-size="28" fill="#000" textLength="218" lengthAdjust="spacingAndGlyphs">0.105% - 0.146%</text>
<text class="sans" x="100" y="968.24" font-size="28" fill="#000" textLength="218" lengthAdjust="spacingAndGlyphs">0.146% - 0.185%</text>
<text class="sans" x="100" y="1001.8" font-size="28" fill="#000" textLength="218" lengthAdjust="spacingAndGlyphs">0.185% - 0.219%</text>
<text class="sans" x="100" y="1035.36" font-size="28" fill="#000" textLength="218" lengthAdjust="spacingAndGlyphs">0.219% - 0.283%</text>
<text class="sans" x="100" y="1068.92" font-size="28" fill="#000" textLength="218" lengthAdjust="spacingAndGlyphs">0.283% - 0.333%</text>
<text class="sans" x="100" y="1102.48" font-size="28" fill="#000" textLength="218" lengthAdjust="spacingAndGlyphs">0.333% - 0.510%</text>
<text class="sans" x="100" y="1136.04" font-size="28" fill="#000" textLength="218" lengthAdjust="spacingAndGlyphs">0.510% - 0.676%</text>
</g>
<g id="credit" fill="#000">
<text class="cjk" x="944.7" y="1137.6" font-size="28">作者</text>
<text class="sans" x="1001" y="1137" font-size="28">:O1a</text>
<text class="cjk" x="1062" y="1137.6" font-size="28">溯源群</text>
</g>
</svg>
</body>
</html>
